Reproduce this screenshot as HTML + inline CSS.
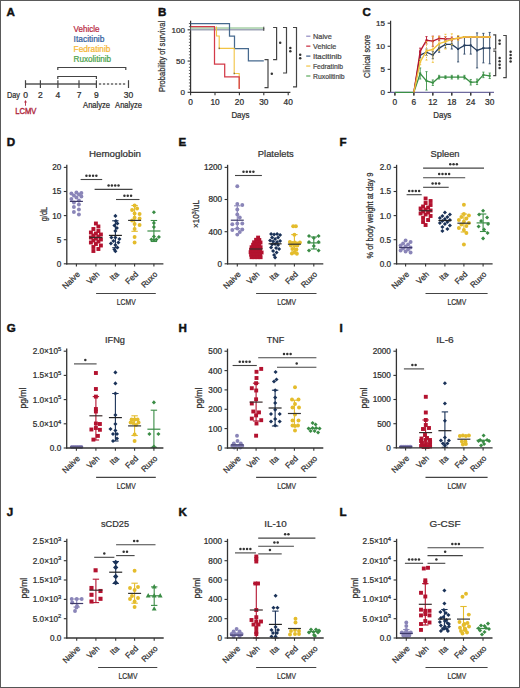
<!DOCTYPE html>
<html><head><meta charset="utf-8"><style>
html,body{margin:0;padding:0;background:#fff;overflow:hidden;}
svg{display:block;font-family:"Liberation Sans", sans-serif;}
</style></head><body>
<svg width="520" height="688" viewBox="0 0 520 688">
<rect x="0" y="0" width="520" height="688" fill="#fff"/>
<text x="6.60" y="16.20" font-size="11.6" text-anchor="start" fill="#111" font-weight="bold" stroke="#111" stroke-width="0.45">A</text>
<text x="73.60" y="31.70" font-size="8.3" text-anchor="start" fill="#b8283f" font-weight="normal" textLength="25.8" lengthAdjust="spacingAndGlyphs"  stroke="#b8283f" stroke-width="0.24">Vehicle</text>
<text x="73.60" y="41.70" font-size="8.3" text-anchor="start" fill="#34609e" font-weight="normal" textLength="30.8" lengthAdjust="spacingAndGlyphs"  stroke="#34609e" stroke-width="0.24">Itacitinib</text>
<text x="73.60" y="51.70" font-size="8.3" text-anchor="start" fill="#f6b634" font-weight="normal" textLength="36.8" lengthAdjust="spacingAndGlyphs"  stroke="#f6b634" stroke-width="0.24">Fedratinib</text>
<text x="73.60" y="61.70" font-size="8.3" text-anchor="start" fill="#4ba24b" font-weight="normal" textLength="37.5" lengthAdjust="spacingAndGlyphs"  stroke="#4ba24b" stroke-width="0.24">Ruxolitinib</text>
<polyline points="57.80,70.10 57.80,67.50 125.80,67.50 125.80,70.10" fill="none" stroke="#444" stroke-width="1.2" />
<polyline points="57.80,79.10 57.80,76.50 96.40,76.50 96.40,79.10" fill="none" stroke="#444" stroke-width="1.2" />
<line x1="25.50" y1="84.00" x2="96.40" y2="84.00" stroke="#555" stroke-width="1.5" />
<line x1="98.90" y1="84.00" x2="126.20" y2="84.00" stroke="#666" stroke-width="1.5" stroke-dasharray="2.3,1.7"/>
<line x1="25.50" y1="80.20" x2="25.50" y2="88.00" stroke="#444" stroke-width="1.2" />
<line x1="40.40" y1="80.20" x2="40.40" y2="88.00" stroke="#444" stroke-width="1.2" />
<line x1="57.90" y1="80.20" x2="57.90" y2="88.00" stroke="#444" stroke-width="1.2" />
<line x1="79.00" y1="80.20" x2="79.00" y2="88.00" stroke="#444" stroke-width="1.2" />
<line x1="96.40" y1="80.20" x2="96.40" y2="88.00" stroke="#444" stroke-width="1.2" />
<line x1="128.50" y1="80.20" x2="128.50" y2="88.00" stroke="#444" stroke-width="1.2" />
<text x="7.00" y="98.00" font-size="8.5" text-anchor="start" fill="#2e2e2e" font-weight="normal" textLength="13" lengthAdjust="spacingAndGlyphs"  stroke="#2e2e2e" stroke-width="0.24">Day</text>
<text x="25.50" y="98.00" font-size="8.5" text-anchor="middle" fill="#2e2e2e" font-weight="normal"  stroke="#2e2e2e" stroke-width="0.24">0</text>
<text x="40.40" y="98.00" font-size="8.5" text-anchor="middle" fill="#2e2e2e" font-weight="normal"  stroke="#2e2e2e" stroke-width="0.24">2</text>
<text x="57.90" y="98.00" font-size="8.5" text-anchor="middle" fill="#2e2e2e" font-weight="normal"  stroke="#2e2e2e" stroke-width="0.24">4</text>
<text x="79.00" y="98.00" font-size="8.5" text-anchor="middle" fill="#2e2e2e" font-weight="normal"  stroke="#2e2e2e" stroke-width="0.24">7</text>
<text x="96.40" y="98.00" font-size="8.5" text-anchor="middle" fill="#2e2e2e" font-weight="normal"  stroke="#2e2e2e" stroke-width="0.24">9</text>
<text x="128.50" y="98.00" font-size="8.5" text-anchor="middle" fill="#2e2e2e" font-weight="normal"  stroke="#2e2e2e" stroke-width="0.24">30</text>
<text x="96.60" y="108.00" font-size="8.5" text-anchor="middle" fill="#2e2e2e" font-weight="normal" textLength="27" lengthAdjust="spacingAndGlyphs"  stroke="#2e2e2e" stroke-width="0.24">Analyze</text>
<text x="128.60" y="108.00" font-size="8.5" text-anchor="middle" fill="#2e2e2e" font-weight="normal" textLength="27" lengthAdjust="spacingAndGlyphs"  stroke="#2e2e2e" stroke-width="0.24">Analyze</text>
<line x1="25.50" y1="101.50" x2="25.50" y2="105.80" stroke="#b02a40" stroke-width="0.9" />
<path d="M24.1,102.4 L25.5,100.1 L26.9,102.4 Z" fill="#b02a40"/>
<text x="25.80" y="114.20" font-size="9" text-anchor="middle" fill="#b02a40" font-weight="normal" textLength="21.3" lengthAdjust="spacingAndGlyphs" class="ns" stroke="#b02a40" stroke-width="0.4">LCMV</text>
<text x="158.00" y="16.20" font-size="11.6" text-anchor="start" fill="#111" font-weight="bold" stroke="#111" stroke-width="0.45">B</text>
<line x1="190.60" y1="20.80" x2="190.60" y2="92.90" stroke="#333" stroke-width="1.2" />
<line x1="190.00" y1="92.30" x2="290.40" y2="92.30" stroke="#333" stroke-width="1.2" />
<line x1="188.90" y1="89.17" x2="190.60" y2="89.17" stroke="#333" stroke-width="0.8" />
<line x1="188.90" y1="86.05" x2="190.60" y2="86.05" stroke="#333" stroke-width="0.8" />
<line x1="188.90" y1="82.92" x2="190.60" y2="82.92" stroke="#333" stroke-width="0.8" />
<line x1="188.90" y1="79.80" x2="190.60" y2="79.80" stroke="#333" stroke-width="0.8" />
<line x1="188.90" y1="76.67" x2="190.60" y2="76.67" stroke="#333" stroke-width="0.8" />
<line x1="188.90" y1="73.55" x2="190.60" y2="73.55" stroke="#333" stroke-width="0.8" />
<line x1="188.90" y1="70.42" x2="190.60" y2="70.42" stroke="#333" stroke-width="0.8" />
<line x1="188.90" y1="67.30" x2="190.60" y2="67.30" stroke="#333" stroke-width="0.8" />
<line x1="188.90" y1="64.17" x2="190.60" y2="64.17" stroke="#333" stroke-width="0.8" />
<line x1="188.90" y1="57.92" x2="190.60" y2="57.92" stroke="#333" stroke-width="0.8" />
<line x1="188.90" y1="54.80" x2="190.60" y2="54.80" stroke="#333" stroke-width="0.8" />
<line x1="188.90" y1="51.67" x2="190.60" y2="51.67" stroke="#333" stroke-width="0.8" />
<line x1="188.90" y1="48.55" x2="190.60" y2="48.55" stroke="#333" stroke-width="0.8" />
<line x1="188.90" y1="45.42" x2="190.60" y2="45.42" stroke="#333" stroke-width="0.8" />
<line x1="188.90" y1="42.30" x2="190.60" y2="42.30" stroke="#333" stroke-width="0.8" />
<line x1="188.90" y1="39.17" x2="190.60" y2="39.17" stroke="#333" stroke-width="0.8" />
<line x1="188.90" y1="36.05" x2="190.60" y2="36.05" stroke="#333" stroke-width="0.8" />
<line x1="188.90" y1="32.92" x2="190.60" y2="32.92" stroke="#333" stroke-width="0.8" />
<line x1="188.90" y1="26.67" x2="190.60" y2="26.67" stroke="#333" stroke-width="0.8" />
<line x1="188.90" y1="23.55" x2="190.60" y2="23.55" stroke="#333" stroke-width="0.8" />
<line x1="187.60" y1="92.30" x2="190.60" y2="92.30" stroke="#333" stroke-width="1.1" />
<text x="185.00" y="95.10" font-size="8.1" text-anchor="end" fill="#2e2e2e" font-weight="normal"  stroke="#2e2e2e" stroke-width="0.24">0</text>
<line x1="187.60" y1="61.05" x2="190.60" y2="61.05" stroke="#333" stroke-width="1.1" />
<text x="185.00" y="63.85" font-size="8.1" text-anchor="end" fill="#2e2e2e" font-weight="normal"  stroke="#2e2e2e" stroke-width="0.24">50</text>
<line x1="187.60" y1="29.80" x2="190.60" y2="29.80" stroke="#333" stroke-width="1.1" />
<text x="185.00" y="32.60" font-size="8.1" text-anchor="end" fill="#2e2e2e" font-weight="normal"  stroke="#2e2e2e" stroke-width="0.24">100</text>
<line x1="190.60" y1="92.30" x2="190.60" y2="95.30" stroke="#333" stroke-width="1.1" />
<text x="190.60" y="104.50" font-size="8.3" text-anchor="middle" fill="#2e2e2e" font-weight="normal"  stroke="#2e2e2e" stroke-width="0.24">0</text>
<line x1="215.00" y1="92.30" x2="215.00" y2="95.30" stroke="#333" stroke-width="1.1" />
<text x="215.00" y="104.50" font-size="8.3" text-anchor="middle" fill="#2e2e2e" font-weight="normal"  stroke="#2e2e2e" stroke-width="0.24">10</text>
<line x1="239.40" y1="92.30" x2="239.40" y2="95.30" stroke="#333" stroke-width="1.1" />
<text x="239.40" y="104.50" font-size="8.3" text-anchor="middle" fill="#2e2e2e" font-weight="normal"  stroke="#2e2e2e" stroke-width="0.24">20</text>
<line x1="263.80" y1="92.30" x2="263.80" y2="95.30" stroke="#333" stroke-width="1.1" />
<text x="263.80" y="104.50" font-size="8.3" text-anchor="middle" fill="#2e2e2e" font-weight="normal"  stroke="#2e2e2e" stroke-width="0.24">30</text>
<line x1="288.20" y1="92.30" x2="288.20" y2="95.30" stroke="#333" stroke-width="1.1" />
<text x="288.20" y="104.50" font-size="8.3" text-anchor="middle" fill="#2e2e2e" font-weight="normal"  stroke="#2e2e2e" stroke-width="0.24">40</text>
<text x="240.40" y="117.80" font-size="8.5" text-anchor="middle" fill="#2e2e2e" font-weight="normal" textLength="18" lengthAdjust="spacingAndGlyphs"  stroke="#2e2e2e" stroke-width="0.24">Days</text>
<text transform="translate(165.3,56.4) rotate(-90)" font-size="9" text-anchor="middle" fill="#2e2e2e" textLength="71" lengthAdjust="spacingAndGlyphs" stroke="#2e2e2e" stroke-width="0.24">Probability of survival</text>
<polyline points="190.60,29.60 263.80,29.60" fill="none" stroke="#a0a6b8" stroke-width="1.6" />
<polyline points="190.60,28.00 263.80,28.00" fill="none" stroke="#a8d2a8" stroke-width="1.6" />
<polyline points="190.60,23.50 229.50,23.50 229.50,36.10 234.50,36.10 234.50,48.60 248.40,48.60 248.40,60.80 263.80,60.80" fill="none" stroke="#46698e" stroke-width="1.25" />
<polyline points="216.50,26.50 216.50,36.00 219.20,36.00 219.20,48.40 234.20,48.40 234.20,73.50 239.20,73.50 239.20,88.50" fill="none" stroke="#f2c444" stroke-width="1.1" />
<polyline points="190.60,26.50 214.50,26.50 214.50,64.20 224.70,64.20 224.70,76.80 239.20,76.80 239.20,89.00" fill="none" stroke="#d33a48" stroke-width="1.25" />
<line x1="263.80" y1="26.70" x2="263.80" y2="29.30" stroke="#333" stroke-width="0.9" />
<line x1="263.80" y1="28.30" x2="263.80" y2="30.90" stroke="#333" stroke-width="0.9" />
<line x1="219.20" y1="47.60" x2="219.20" y2="49.20" stroke="#333" stroke-width="0.8" />
<line x1="234.20" y1="72.70" x2="234.20" y2="74.30" stroke="#333" stroke-width="0.8" />
<polyline points="273.10,27.50 276.60,27.50 276.60,59.60 273.10,59.60" fill="none" stroke="#444" stroke-width="1.2" />
<polyline points="264.50,59.60 268.00,59.60 268.00,87.70 264.50,87.70" fill="none" stroke="#444" stroke-width="1.2" />
<polyline points="283.00,27.50 286.50,27.50 286.50,73.00 283.00,73.00" fill="none" stroke="#444" stroke-width="1.2" />
<polyline points="293.00,27.50 296.50,27.50 296.50,86.80 293.00,86.80" fill="none" stroke="#444" stroke-width="1.2" />
<circle cx="280.20" cy="42.70" r="1.25" fill="#333"/>
<circle cx="271.80" cy="73.80" r="1.25" fill="#333"/>
<circle cx="290.30" cy="47.95" r="1.25" fill="#333"/>
<circle cx="290.30" cy="51.25" r="1.25" fill="#333"/>
<circle cx="300.20" cy="54.85" r="1.25" fill="#333"/>
<circle cx="300.20" cy="58.15" r="1.25" fill="#333"/>
<line x1="306.20" y1="36.20" x2="310.40" y2="36.20" stroke="#9089c0" stroke-width="1.2" />
<text x="313.00" y="38.80" font-size="7.9" text-anchor="start" fill="#4a4a4a" font-weight="normal" textLength="18.8" lengthAdjust="spacingAndGlyphs"  stroke="#4a4a4a" stroke-width="0.24">Naive</text>
<line x1="306.20" y1="46.15" x2="310.40" y2="46.15" stroke="#c8283c" stroke-width="1.2" />
<text x="313.00" y="48.75" font-size="7.9" text-anchor="start" fill="#4a4a4a" font-weight="normal" textLength="23.3" lengthAdjust="spacingAndGlyphs"  stroke="#4a4a4a" stroke-width="0.24">Vehicle</text>
<line x1="306.20" y1="56.10" x2="310.40" y2="56.10" stroke="#3a5a88" stroke-width="1.2" />
<text x="313.00" y="58.70" font-size="7.9" text-anchor="start" fill="#4a4a4a" font-weight="normal" textLength="28.5" lengthAdjust="spacingAndGlyphs"  stroke="#4a4a4a" stroke-width="0.24">Itacitinib</text>
<line x1="306.20" y1="66.05" x2="310.40" y2="66.05" stroke="#f2c444" stroke-width="1.2" />
<text x="313.00" y="68.65" font-size="7.9" text-anchor="start" fill="#4a4a4a" font-weight="normal" textLength="30" lengthAdjust="spacingAndGlyphs"  stroke="#4a4a4a" stroke-width="0.24">Fedratinib</text>
<line x1="306.20" y1="76.00" x2="310.40" y2="76.00" stroke="#5aa85a" stroke-width="1.2" />
<text x="313.00" y="78.60" font-size="7.9" text-anchor="start" fill="#4a4a4a" font-weight="normal" textLength="31.5" lengthAdjust="spacingAndGlyphs"  stroke="#4a4a4a" stroke-width="0.24">Ruxolitinib</text>
<text x="362.50" y="16.20" font-size="11.6" text-anchor="start" fill="#111" font-weight="bold" stroke="#111" stroke-width="0.45">C</text>
<line x1="390.60" y1="20.80" x2="390.60" y2="93.00" stroke="#333" stroke-width="1.2" />
<line x1="387.60" y1="92.40" x2="390.60" y2="92.40" stroke="#333" stroke-width="1.1" />
<text x="385.00" y="95.20" font-size="8.1" text-anchor="end" fill="#2e2e2e" font-weight="normal"  stroke="#2e2e2e" stroke-width="0.24">0</text>
<line x1="387.60" y1="69.34" x2="390.60" y2="69.34" stroke="#333" stroke-width="1.1" />
<text x="385.00" y="72.14" font-size="8.1" text-anchor="end" fill="#2e2e2e" font-weight="normal"  stroke="#2e2e2e" stroke-width="0.24">5</text>
<line x1="387.60" y1="46.27" x2="390.60" y2="46.27" stroke="#333" stroke-width="1.1" />
<text x="385.00" y="49.07" font-size="8.1" text-anchor="end" fill="#2e2e2e" font-weight="normal"  stroke="#2e2e2e" stroke-width="0.24">10</text>
<line x1="387.60" y1="23.20" x2="390.60" y2="23.20" stroke="#333" stroke-width="1.1" />
<text x="385.00" y="26.00" font-size="8.1" text-anchor="end" fill="#2e2e2e" font-weight="normal"  stroke="#2e2e2e" stroke-width="0.24">15</text>
<line x1="394.90" y1="92.40" x2="394.90" y2="95.40" stroke="#333" stroke-width="1.1" />
<text x="394.90" y="104.60" font-size="8.3" text-anchor="middle" fill="#2e2e2e" font-weight="normal"  stroke="#2e2e2e" stroke-width="0.24">0</text>
<line x1="413.86" y1="92.40" x2="413.86" y2="95.40" stroke="#333" stroke-width="1.1" />
<text x="413.86" y="104.60" font-size="8.3" text-anchor="middle" fill="#2e2e2e" font-weight="normal"  stroke="#2e2e2e" stroke-width="0.24">6</text>
<line x1="432.82" y1="92.40" x2="432.82" y2="95.40" stroke="#333" stroke-width="1.1" />
<text x="432.82" y="104.60" font-size="8.3" text-anchor="middle" fill="#2e2e2e" font-weight="normal"  stroke="#2e2e2e" stroke-width="0.24">12</text>
<line x1="451.78" y1="92.40" x2="451.78" y2="95.40" stroke="#333" stroke-width="1.1" />
<text x="451.78" y="104.60" font-size="8.3" text-anchor="middle" fill="#2e2e2e" font-weight="normal"  stroke="#2e2e2e" stroke-width="0.24">18</text>
<line x1="470.74" y1="92.40" x2="470.74" y2="95.40" stroke="#333" stroke-width="1.1" />
<text x="470.74" y="104.60" font-size="8.3" text-anchor="middle" fill="#2e2e2e" font-weight="normal"  stroke="#2e2e2e" stroke-width="0.24">24</text>
<line x1="489.70" y1="92.40" x2="489.70" y2="95.40" stroke="#333" stroke-width="1.1" />
<text x="489.70" y="104.60" font-size="8.3" text-anchor="middle" fill="#2e2e2e" font-weight="normal"  stroke="#2e2e2e" stroke-width="0.24">30</text>
<text x="442.30" y="117.90" font-size="8.5" text-anchor="middle" fill="#2e2e2e" font-weight="normal" textLength="18" lengthAdjust="spacingAndGlyphs"  stroke="#2e2e2e" stroke-width="0.24">Days</text>
<text transform="translate(369.6,56.4) rotate(-90)" font-size="9" text-anchor="middle" fill="#2e2e2e" textLength="43" lengthAdjust="spacingAndGlyphs" stroke="#2e2e2e" stroke-width="0.24">Clinical score</text>
<line x1="390.00" y1="92.40" x2="494.00" y2="92.40" stroke="#6e6a9e" stroke-width="1.2" />
<line x1="394.90" y1="92.40" x2="394.90" y2="95.40" stroke="#333" stroke-width="1.1" />
<line x1="413.86" y1="92.40" x2="413.86" y2="95.40" stroke="#333" stroke-width="1.1" />
<line x1="432.82" y1="92.40" x2="432.82" y2="95.40" stroke="#333" stroke-width="1.1" />
<line x1="451.78" y1="92.40" x2="451.78" y2="95.40" stroke="#333" stroke-width="1.1" />
<line x1="470.74" y1="92.40" x2="470.74" y2="95.40" stroke="#333" stroke-width="1.1" />
<line x1="489.70" y1="92.40" x2="489.70" y2="95.40" stroke="#333" stroke-width="1.1" />
<polyline points="394.90,92.40 413.86,92.40" fill="none" stroke="#3a9045" stroke-width="1.2" />
<line x1="420.18" y1="79.02" x2="420.18" y2="67.95" stroke="#3a9045" stroke-width="0.9" />
<line x1="419.08" y1="79.02" x2="421.28" y2="79.02" stroke="#3a9045" stroke-width="0.8" />
<line x1="419.08" y1="67.95" x2="421.28" y2="67.95" stroke="#3a9045" stroke-width="0.8" />
<line x1="426.50" y1="90.09" x2="426.50" y2="71.64" stroke="#3a9045" stroke-width="0.9" />
<line x1="425.40" y1="90.09" x2="427.60" y2="90.09" stroke="#3a9045" stroke-width="0.8" />
<line x1="425.40" y1="71.64" x2="427.60" y2="71.64" stroke="#3a9045" stroke-width="0.8" />
<line x1="432.82" y1="85.48" x2="432.82" y2="79.94" stroke="#3a9045" stroke-width="0.9" />
<line x1="431.72" y1="85.48" x2="433.92" y2="85.48" stroke="#3a9045" stroke-width="0.8" />
<line x1="431.72" y1="79.94" x2="433.92" y2="79.94" stroke="#3a9045" stroke-width="0.8" />
<line x1="439.14" y1="79.02" x2="439.14" y2="75.33" stroke="#3a9045" stroke-width="0.9" />
<line x1="438.04" y1="79.02" x2="440.24" y2="79.02" stroke="#3a9045" stroke-width="0.8" />
<line x1="438.04" y1="75.33" x2="440.24" y2="75.33" stroke="#3a9045" stroke-width="0.8" />
<line x1="445.46" y1="78.56" x2="445.46" y2="75.79" stroke="#3a9045" stroke-width="0.9" />
<line x1="444.36" y1="78.56" x2="446.56" y2="78.56" stroke="#3a9045" stroke-width="0.8" />
<line x1="444.36" y1="75.79" x2="446.56" y2="75.79" stroke="#3a9045" stroke-width="0.8" />
<line x1="451.78" y1="79.02" x2="451.78" y2="75.33" stroke="#3a9045" stroke-width="0.9" />
<line x1="450.68" y1="79.02" x2="452.88" y2="79.02" stroke="#3a9045" stroke-width="0.8" />
<line x1="450.68" y1="75.33" x2="452.88" y2="75.33" stroke="#3a9045" stroke-width="0.8" />
<line x1="458.10" y1="79.02" x2="458.10" y2="75.33" stroke="#3a9045" stroke-width="0.9" />
<line x1="457.00" y1="79.02" x2="459.20" y2="79.02" stroke="#3a9045" stroke-width="0.8" />
<line x1="457.00" y1="75.33" x2="459.20" y2="75.33" stroke="#3a9045" stroke-width="0.8" />
<line x1="464.42" y1="79.02" x2="464.42" y2="75.33" stroke="#3a9045" stroke-width="0.9" />
<line x1="463.32" y1="79.02" x2="465.52" y2="79.02" stroke="#3a9045" stroke-width="0.8" />
<line x1="463.32" y1="75.33" x2="465.52" y2="75.33" stroke="#3a9045" stroke-width="0.8" />
<line x1="470.74" y1="85.02" x2="470.74" y2="79.48" stroke="#3a9045" stroke-width="0.9" />
<line x1="469.64" y1="85.02" x2="471.84" y2="85.02" stroke="#3a9045" stroke-width="0.8" />
<line x1="469.64" y1="79.48" x2="471.84" y2="79.48" stroke="#3a9045" stroke-width="0.8" />
<line x1="477.06" y1="84.56" x2="477.06" y2="79.02" stroke="#3a9045" stroke-width="0.9" />
<line x1="475.96" y1="84.56" x2="478.16" y2="84.56" stroke="#3a9045" stroke-width="0.8" />
<line x1="475.96" y1="79.02" x2="478.16" y2="79.02" stroke="#3a9045" stroke-width="0.8" />
<line x1="483.38" y1="77.64" x2="483.38" y2="72.10" stroke="#3a9045" stroke-width="0.9" />
<line x1="482.28" y1="77.64" x2="484.48" y2="77.64" stroke="#3a9045" stroke-width="0.8" />
<line x1="482.28" y1="72.10" x2="484.48" y2="72.10" stroke="#3a9045" stroke-width="0.8" />
<line x1="489.70" y1="78.56" x2="489.70" y2="73.03" stroke="#3a9045" stroke-width="0.9" />
<line x1="488.60" y1="78.56" x2="490.80" y2="78.56" stroke="#3a9045" stroke-width="0.8" />
<line x1="488.60" y1="73.03" x2="490.80" y2="73.03" stroke="#3a9045" stroke-width="0.8" />
<polyline points="413.86,92.40 420.18,73.49 426.50,80.87 432.82,82.71 439.14,77.18 445.46,77.18 451.78,77.18 458.10,77.18 464.42,77.18 470.74,82.25 477.06,81.79 483.38,74.87 489.70,75.79" fill="none" stroke="#3a9045" stroke-width="1.3" />
<rect x="419.18" y="72.49" width="2" height="2" fill="#3a9045"/>
<rect x="425.50" y="79.87" width="2" height="2" fill="#3a9045"/>
<rect x="431.82" y="81.71" width="2" height="2" fill="#3a9045"/>
<rect x="438.14" y="76.18" width="2" height="2" fill="#3a9045"/>
<rect x="444.46" y="76.18" width="2" height="2" fill="#3a9045"/>
<rect x="450.78" y="76.18" width="2" height="2" fill="#3a9045"/>
<rect x="457.10" y="76.18" width="2" height="2" fill="#3a9045"/>
<rect x="463.42" y="76.18" width="2" height="2" fill="#3a9045"/>
<rect x="469.74" y="81.25" width="2" height="2" fill="#3a9045"/>
<rect x="476.06" y="80.79" width="2" height="2" fill="#3a9045"/>
<rect x="482.38" y="73.87" width="2" height="2" fill="#3a9045"/>
<rect x="488.70" y="74.79" width="2" height="2" fill="#3a9045"/>
<line x1="420.18" y1="57.80" x2="420.18" y2="52.27" stroke="#263f60" stroke-width="0.9" />
<line x1="419.08" y1="57.80" x2="421.28" y2="57.80" stroke="#263f60" stroke-width="0.8" />
<line x1="419.08" y1="52.27" x2="421.28" y2="52.27" stroke="#263f60" stroke-width="0.8" />
<line x1="426.50" y1="55.50" x2="426.50" y2="49.04" stroke="#263f60" stroke-width="0.9" />
<line x1="425.40" y1="55.50" x2="427.60" y2="55.50" stroke="#263f60" stroke-width="0.8" />
<line x1="425.40" y1="49.04" x2="427.60" y2="49.04" stroke="#263f60" stroke-width="0.8" />
<line x1="432.82" y1="58.73" x2="432.82" y2="51.34" stroke="#263f60" stroke-width="0.9" />
<line x1="431.72" y1="58.73" x2="433.92" y2="58.73" stroke="#263f60" stroke-width="0.8" />
<line x1="431.72" y1="51.34" x2="433.92" y2="51.34" stroke="#263f60" stroke-width="0.8" />
<line x1="439.14" y1="52.27" x2="439.14" y2="43.96" stroke="#263f60" stroke-width="0.9" />
<line x1="438.04" y1="52.27" x2="440.24" y2="52.27" stroke="#263f60" stroke-width="0.8" />
<line x1="438.04" y1="43.96" x2="440.24" y2="43.96" stroke="#263f60" stroke-width="0.8" />
<line x1="445.46" y1="48.12" x2="445.46" y2="40.73" stroke="#263f60" stroke-width="0.9" />
<line x1="444.36" y1="48.12" x2="446.56" y2="48.12" stroke="#263f60" stroke-width="0.8" />
<line x1="444.36" y1="40.73" x2="446.56" y2="40.73" stroke="#263f60" stroke-width="0.8" />
<line x1="451.78" y1="49.04" x2="451.78" y2="39.81" stroke="#263f60" stroke-width="0.9" />
<line x1="450.68" y1="49.04" x2="452.88" y2="49.04" stroke="#263f60" stroke-width="0.8" />
<line x1="450.68" y1="39.81" x2="452.88" y2="39.81" stroke="#263f60" stroke-width="0.8" />
<line x1="458.10" y1="61.95" x2="458.10" y2="36.12" stroke="#263f60" stroke-width="0.9" />
<line x1="457.00" y1="61.95" x2="459.20" y2="61.95" stroke="#263f60" stroke-width="0.8" />
<line x1="457.00" y1="36.12" x2="459.20" y2="36.12" stroke="#263f60" stroke-width="0.8" />
<line x1="464.42" y1="54.11" x2="464.42" y2="36.58" stroke="#263f60" stroke-width="0.9" />
<line x1="463.32" y1="54.11" x2="465.52" y2="54.11" stroke="#263f60" stroke-width="0.8" />
<line x1="463.32" y1="36.58" x2="465.52" y2="36.58" stroke="#263f60" stroke-width="0.8" />
<line x1="470.74" y1="54.11" x2="470.74" y2="36.58" stroke="#263f60" stroke-width="0.9" />
<line x1="469.64" y1="54.11" x2="471.84" y2="54.11" stroke="#263f60" stroke-width="0.8" />
<line x1="469.64" y1="36.58" x2="471.84" y2="36.58" stroke="#263f60" stroke-width="0.8" />
<line x1="477.06" y1="67.95" x2="477.06" y2="32.89" stroke="#263f60" stroke-width="0.9" />
<line x1="475.96" y1="67.95" x2="478.16" y2="67.95" stroke="#263f60" stroke-width="0.8" />
<line x1="475.96" y1="32.89" x2="478.16" y2="32.89" stroke="#263f60" stroke-width="0.8" />
<line x1="483.38" y1="62.88" x2="483.38" y2="33.35" stroke="#263f60" stroke-width="0.9" />
<line x1="482.28" y1="62.88" x2="484.48" y2="62.88" stroke="#263f60" stroke-width="0.8" />
<line x1="482.28" y1="33.35" x2="484.48" y2="33.35" stroke="#263f60" stroke-width="0.8" />
<line x1="489.70" y1="63.80" x2="489.70" y2="32.43" stroke="#263f60" stroke-width="0.9" />
<line x1="488.60" y1="63.80" x2="490.80" y2="63.80" stroke="#263f60" stroke-width="0.8" />
<line x1="488.60" y1="32.43" x2="490.80" y2="32.43" stroke="#263f60" stroke-width="0.8" />
<polyline points="413.86,92.40 420.18,55.03 426.50,52.27 432.82,55.03 439.14,48.12 445.46,44.42 451.78,44.42 458.10,49.04 464.42,45.35 470.74,45.35 477.06,50.42 483.38,48.12 489.70,48.12" fill="none" stroke="#263f60" stroke-width="1.3" />
<rect x="419.18" y="54.03" width="2" height="2" fill="#263f60"/>
<rect x="425.50" y="51.27" width="2" height="2" fill="#263f60"/>
<rect x="431.82" y="54.03" width="2" height="2" fill="#263f60"/>
<rect x="438.14" y="47.12" width="2" height="2" fill="#263f60"/>
<rect x="444.46" y="43.42" width="2" height="2" fill="#263f60"/>
<rect x="450.78" y="43.42" width="2" height="2" fill="#263f60"/>
<rect x="457.10" y="48.04" width="2" height="2" fill="#263f60"/>
<rect x="463.42" y="44.35" width="2" height="2" fill="#263f60"/>
<rect x="469.74" y="44.35" width="2" height="2" fill="#263f60"/>
<rect x="476.06" y="49.42" width="2" height="2" fill="#263f60"/>
<rect x="482.38" y="47.12" width="2" height="2" fill="#263f60"/>
<rect x="488.70" y="47.12" width="2" height="2" fill="#263f60"/>
<line x1="420.18" y1="54.57" x2="420.18" y2="48.12" stroke="#b8142f" stroke-width="0.9" />
<line x1="419.08" y1="54.57" x2="421.28" y2="54.57" stroke="#b8142f" stroke-width="0.8" />
<line x1="419.08" y1="48.12" x2="421.28" y2="48.12" stroke="#b8142f" stroke-width="0.8" />
<line x1="426.50" y1="43.96" x2="426.50" y2="36.58" stroke="#b8142f" stroke-width="0.9" />
<line x1="425.40" y1="43.96" x2="427.60" y2="43.96" stroke="#b8142f" stroke-width="0.8" />
<line x1="425.40" y1="36.58" x2="427.60" y2="36.58" stroke="#b8142f" stroke-width="0.8" />
<line x1="432.82" y1="46.27" x2="432.82" y2="36.12" stroke="#b8142f" stroke-width="0.9" />
<line x1="431.72" y1="46.27" x2="433.92" y2="46.27" stroke="#b8142f" stroke-width="0.8" />
<line x1="431.72" y1="36.12" x2="433.92" y2="36.12" stroke="#b8142f" stroke-width="0.8" />
<line x1="439.14" y1="40.73" x2="439.14" y2="36.12" stroke="#b8142f" stroke-width="0.9" />
<line x1="438.04" y1="40.73" x2="440.24" y2="40.73" stroke="#b8142f" stroke-width="0.8" />
<line x1="438.04" y1="36.12" x2="440.24" y2="36.12" stroke="#b8142f" stroke-width="0.8" />
<line x1="445.46" y1="41.20" x2="445.46" y2="36.58" stroke="#b8142f" stroke-width="0.9" />
<line x1="444.36" y1="41.20" x2="446.56" y2="41.20" stroke="#b8142f" stroke-width="0.8" />
<line x1="444.36" y1="36.58" x2="446.56" y2="36.58" stroke="#b8142f" stroke-width="0.8" />
<line x1="451.78" y1="40.73" x2="451.78" y2="37.04" stroke="#b8142f" stroke-width="0.9" />
<line x1="450.68" y1="40.73" x2="452.88" y2="40.73" stroke="#b8142f" stroke-width="0.8" />
<line x1="450.68" y1="37.04" x2="452.88" y2="37.04" stroke="#b8142f" stroke-width="0.8" />
<line x1="458.10" y1="39.81" x2="458.10" y2="37.04" stroke="#b8142f" stroke-width="0.9" />
<line x1="457.00" y1="39.81" x2="459.20" y2="39.81" stroke="#b8142f" stroke-width="0.8" />
<line x1="457.00" y1="37.04" x2="459.20" y2="37.04" stroke="#b8142f" stroke-width="0.8" />
<polyline points="413.86,92.40 420.18,51.34 426.50,40.27 432.82,41.20 439.14,38.43 445.46,38.89 451.78,38.89 458.10,38.43 464.42,37.04 470.74,37.04 477.06,37.04 483.38,37.04 489.70,37.04" fill="none" stroke="#b8142f" stroke-width="1.3" />
<rect x="419.18" y="50.34" width="2" height="2" fill="#b8142f"/>
<rect x="425.50" y="39.27" width="2" height="2" fill="#b8142f"/>
<rect x="431.82" y="40.20" width="2" height="2" fill="#b8142f"/>
<rect x="438.14" y="37.43" width="2" height="2" fill="#b8142f"/>
<rect x="444.46" y="37.89" width="2" height="2" fill="#b8142f"/>
<rect x="450.78" y="37.89" width="2" height="2" fill="#b8142f"/>
<rect x="457.10" y="37.43" width="2" height="2" fill="#b8142f"/>
<rect x="463.42" y="36.04" width="2" height="2" fill="#b8142f"/>
<rect x="469.74" y="36.04" width="2" height="2" fill="#b8142f"/>
<rect x="476.06" y="36.04" width="2" height="2" fill="#b8142f"/>
<rect x="482.38" y="36.04" width="2" height="2" fill="#b8142f"/>
<rect x="488.70" y="36.04" width="2" height="2" fill="#b8142f"/>
<line x1="420.18" y1="64.72" x2="420.18" y2="59.19" stroke="#f0c23a" stroke-width="0.9" stroke-dasharray="1.2,0.8"/>
<line x1="419.08" y1="64.72" x2="421.28" y2="64.72" stroke="#f0c23a" stroke-width="0.8" />
<line x1="419.08" y1="59.19" x2="421.28" y2="59.19" stroke="#f0c23a" stroke-width="0.8" />
<line x1="426.50" y1="60.11" x2="426.50" y2="41.66" stroke="#f0c23a" stroke-width="0.9" stroke-dasharray="1.2,0.8"/>
<line x1="425.40" y1="60.11" x2="427.60" y2="60.11" stroke="#f0c23a" stroke-width="0.8" />
<line x1="425.40" y1="41.66" x2="427.60" y2="41.66" stroke="#f0c23a" stroke-width="0.8" />
<line x1="432.82" y1="62.42" x2="432.82" y2="36.58" stroke="#f0c23a" stroke-width="0.9" stroke-dasharray="1.2,0.8"/>
<line x1="431.72" y1="62.42" x2="433.92" y2="62.42" stroke="#f0c23a" stroke-width="0.8" />
<line x1="431.72" y1="36.58" x2="433.92" y2="36.58" stroke="#f0c23a" stroke-width="0.8" />
<line x1="439.14" y1="50.42" x2="439.14" y2="36.58" stroke="#f0c23a" stroke-width="0.9" stroke-dasharray="1.2,0.8"/>
<line x1="438.04" y1="50.42" x2="440.24" y2="50.42" stroke="#f0c23a" stroke-width="0.8" />
<line x1="438.04" y1="36.58" x2="440.24" y2="36.58" stroke="#f0c23a" stroke-width="0.8" />
<line x1="445.46" y1="49.04" x2="445.46" y2="34.28" stroke="#f0c23a" stroke-width="0.9" stroke-dasharray="1.2,0.8"/>
<line x1="444.36" y1="49.04" x2="446.56" y2="49.04" stroke="#f0c23a" stroke-width="0.8" />
<line x1="444.36" y1="34.28" x2="446.56" y2="34.28" stroke="#f0c23a" stroke-width="0.8" />
<line x1="451.78" y1="44.89" x2="451.78" y2="33.81" stroke="#f0c23a" stroke-width="0.9" stroke-dasharray="1.2,0.8"/>
<line x1="450.68" y1="44.89" x2="452.88" y2="44.89" stroke="#f0c23a" stroke-width="0.8" />
<line x1="450.68" y1="33.81" x2="452.88" y2="33.81" stroke="#f0c23a" stroke-width="0.8" />
<line x1="458.10" y1="40.27" x2="458.10" y2="35.66" stroke="#f0c23a" stroke-width="0.9" stroke-dasharray="1.2,0.8"/>
<line x1="457.00" y1="40.27" x2="459.20" y2="40.27" stroke="#f0c23a" stroke-width="0.8" />
<line x1="457.00" y1="35.66" x2="459.20" y2="35.66" stroke="#f0c23a" stroke-width="0.8" />
<polyline points="413.86,92.40 420.18,61.95 426.50,50.88 432.82,49.50 439.14,43.50 445.46,41.66 451.78,39.35 458.10,37.97 464.42,37.04 470.74,37.04 477.06,37.04 483.38,37.04 489.70,37.04" fill="none" stroke="#f0c23a" stroke-width="1.4" />
<rect x="419.18" y="60.95" width="2" height="2" fill="#f0c23a"/>
<rect x="425.50" y="49.88" width="2" height="2" fill="#f0c23a"/>
<rect x="431.82" y="48.50" width="2" height="2" fill="#f0c23a"/>
<rect x="438.14" y="42.50" width="2" height="2" fill="#f0c23a"/>
<rect x="444.46" y="40.66" width="2" height="2" fill="#f0c23a"/>
<rect x="450.78" y="38.35" width="2" height="2" fill="#f0c23a"/>
<rect x="457.10" y="36.97" width="2" height="2" fill="#f0c23a"/>
<rect x="463.42" y="36.04" width="2" height="2" fill="#f0c23a"/>
<rect x="469.74" y="36.04" width="2" height="2" fill="#f0c23a"/>
<rect x="476.06" y="36.04" width="2" height="2" fill="#f0c23a"/>
<rect x="482.38" y="36.04" width="2" height="2" fill="#f0c23a"/>
<rect x="488.70" y="36.04" width="2" height="2" fill="#f0c23a"/>
<polyline points="493.20,34.90 495.70,34.90 495.70,49.00 493.20,49.00" fill="none" stroke="#444" stroke-width="1.2" />
<polyline points="493.20,51.20 495.70,51.20 495.70,75.60 493.20,75.60" fill="none" stroke="#444" stroke-width="1.2" />
<polyline points="503.20,35.50 506.20,35.50 506.20,77.60 503.20,77.60" fill="none" stroke="#444" stroke-width="1.2" />
<circle cx="499.60" cy="40.45" r="1.25" fill="#333"/>
<circle cx="499.60" cy="43.75" r="1.25" fill="#333"/>
<circle cx="499.60" cy="58.05" r="1.25" fill="#333"/>
<circle cx="499.60" cy="61.35" r="1.25" fill="#333"/>
<circle cx="499.60" cy="64.65" r="1.25" fill="#333"/>
<circle cx="499.60" cy="67.95" r="1.25" fill="#333"/>
<circle cx="510.60" cy="51.65" r="1.25" fill="#333"/>
<circle cx="510.60" cy="54.95" r="1.25" fill="#333"/>
<circle cx="510.60" cy="58.25" r="1.25" fill="#333"/>
<circle cx="510.60" cy="61.55" r="1.25" fill="#333"/>
<text x="6.80" y="145.80" font-size="11.6" text-anchor="start" fill="#111" font-weight="bold" stroke="#111" stroke-width="0.45">D</text>
<text x="115.00" y="156.60" font-size="9.3" text-anchor="middle" fill="#333" font-weight="normal" textLength="52" lengthAdjust="spacingAndGlyphs"  stroke="#333" stroke-width="0.24">Hemoglobin</text>
<circle cx="76.40" cy="192.50" r="1.95" fill="#8a85b8"/>
<circle cx="81.40" cy="193.00" r="1.95" fill="#8a85b8"/>
<circle cx="71.40" cy="193.50" r="1.95" fill="#8a85b8"/>
<circle cx="78.90" cy="194.50" r="1.95" fill="#8a85b8"/>
<circle cx="73.90" cy="195.50" r="1.95" fill="#8a85b8"/>
<circle cx="81.40" cy="196.50" r="1.95" fill="#8a85b8"/>
<circle cx="76.40" cy="197.50" r="1.95" fill="#8a85b8"/>
<circle cx="71.40" cy="199.00" r="1.95" fill="#8a85b8"/>
<circle cx="78.90" cy="200.50" r="1.95" fill="#8a85b8"/>
<circle cx="73.90" cy="202.50" r="1.95" fill="#8a85b8"/>
<circle cx="78.90" cy="204.50" r="1.95" fill="#8a85b8"/>
<circle cx="73.90" cy="207.00" r="1.95" fill="#8a85b8"/>
<circle cx="78.90" cy="209.50" r="1.95" fill="#8a85b8"/>
<circle cx="73.90" cy="212.00" r="1.95" fill="#8a85b8"/>
<circle cx="78.90" cy="214.50" r="1.95" fill="#8a85b8"/>
<line x1="69.90" y1="201.40" x2="82.90" y2="201.40" stroke="#3e3a6a" stroke-width="1.2" />
<rect x="93.95" y="221.55" width="3.90" height="3.90" fill="#b3122f"/>
<rect x="96.45" y="224.55" width="3.90" height="3.90" fill="#b3122f"/>
<rect x="91.45" y="227.05" width="3.90" height="3.90" fill="#b3122f"/>
<rect x="96.45" y="229.05" width="3.90" height="3.90" fill="#b3122f"/>
<rect x="88.95" y="230.55" width="3.90" height="3.90" fill="#b3122f"/>
<rect x="93.95" y="231.55" width="3.90" height="3.90" fill="#b3122f"/>
<rect x="98.95" y="232.55" width="3.90" height="3.90" fill="#b3122f"/>
<rect x="91.45" y="233.55" width="3.90" height="3.90" fill="#b3122f"/>
<rect x="96.45" y="234.55" width="3.90" height="3.90" fill="#b3122f"/>
<rect x="88.95" y="235.55" width="3.90" height="3.90" fill="#b3122f"/>
<rect x="93.95" y="236.55" width="3.90" height="3.90" fill="#b3122f"/>
<rect x="98.95" y="237.55" width="3.90" height="3.90" fill="#b3122f"/>
<rect x="91.45" y="238.55" width="3.90" height="3.90" fill="#b3122f"/>
<rect x="96.45" y="239.55" width="3.90" height="3.90" fill="#b3122f"/>
<rect x="88.95" y="240.55" width="3.90" height="3.90" fill="#b3122f"/>
<rect x="93.95" y="242.05" width="3.90" height="3.90" fill="#b3122f"/>
<rect x="98.95" y="243.55" width="3.90" height="3.90" fill="#b3122f"/>
<rect x="91.45" y="245.05" width="3.90" height="3.90" fill="#b3122f"/>
<rect x="96.45" y="247.05" width="3.90" height="3.90" fill="#b3122f"/>
<rect x="91.45" y="249.05" width="3.90" height="3.90" fill="#b3122f"/>
<line x1="89.40" y1="237.50" x2="102.40" y2="237.50" stroke="#3a2a2a" stroke-width="1.2" />
<line x1="115.40" y1="220.80" x2="115.40" y2="247.70" stroke="#1a3258" stroke-width="1.1" />
<line x1="112.20" y1="220.80" x2="118.60" y2="220.80" stroke="#1a3258" stroke-width="1.1" />
<line x1="112.20" y1="247.70" x2="118.60" y2="247.70" stroke="#1a3258" stroke-width="1.1" />
<path d="M115.40,213.85 L117.45,215.90 L115.40,217.95 L113.35,215.90 Z" fill="#1a3258"/>
<path d="M115.90,218.95 L117.95,221.00 L115.90,223.05 L113.85,221.00 Z" fill="#1a3258"/>
<path d="M117.40,221.45 L119.45,223.50 L117.40,225.55 L115.35,223.50 Z" fill="#1a3258"/>
<path d="M114.40,223.45 L116.45,225.50 L114.40,227.55 L112.35,225.50 Z" fill="#1a3258"/>
<path d="M116.90,225.95 L118.95,228.00 L116.90,230.05 L114.85,228.00 Z" fill="#1a3258"/>
<path d="M115.40,228.95 L117.45,231.00 L115.40,233.05 L113.35,231.00 Z" fill="#1a3258"/>
<path d="M111.40,235.45 L113.45,237.50 L111.40,239.55 L109.35,237.50 Z" fill="#1a3258"/>
<path d="M115.40,235.45 L117.45,237.50 L115.40,239.55 L113.35,237.50 Z" fill="#1a3258"/>
<path d="M119.40,236.95 L121.45,239.00 L119.40,241.05 L117.35,239.00 Z" fill="#1a3258"/>
<path d="M113.40,238.95 L115.45,241.00 L113.40,243.05 L111.35,241.00 Z" fill="#1a3258"/>
<path d="M118.40,240.45 L120.45,242.50 L118.40,244.55 L116.35,242.50 Z" fill="#1a3258"/>
<path d="M110.90,241.45 L112.95,243.50 L110.90,245.55 L108.85,243.50 Z" fill="#1a3258"/>
<path d="M115.40,242.95 L117.45,245.00 L115.40,247.05 L113.35,245.00 Z" fill="#1a3258"/>
<path d="M117.40,245.45 L119.45,247.50 L117.40,249.55 L115.35,247.50 Z" fill="#1a3258"/>
<path d="M114.40,247.45 L116.45,249.50 L114.40,251.55 L112.35,249.50 Z" fill="#1a3258"/>
<path d="M115.40,249.25 L117.45,251.30 L115.40,253.35 L113.35,251.30 Z" fill="#1a3258"/>
<line x1="108.90" y1="235.40" x2="121.90" y2="235.40" stroke="#222" stroke-width="1.2" />
<line x1="134.60" y1="205.50" x2="134.60" y2="231.30" stroke="#e4bc2c" stroke-width="1.1" />
<line x1="131.40" y1="205.50" x2="137.80" y2="205.50" stroke="#e4bc2c" stroke-width="1.1" />
<line x1="131.40" y1="231.30" x2="137.80" y2="231.30" stroke="#e4bc2c" stroke-width="1.1" />
<circle cx="134.60" cy="205.50" r="1.95" fill="#e4bc2c"/>
<circle cx="137.10" cy="208.50" r="1.95" fill="#e4bc2c"/>
<circle cx="132.10" cy="210.00" r="1.95" fill="#e4bc2c"/>
<circle cx="134.60" cy="213.50" r="1.95" fill="#e4bc2c"/>
<circle cx="139.60" cy="214.00" r="1.95" fill="#e4bc2c"/>
<circle cx="134.60" cy="217.80" r="1.95" fill="#e4bc2c"/>
<circle cx="139.60" cy="218.50" r="1.95" fill="#e4bc2c"/>
<circle cx="132.10" cy="220.50" r="1.95" fill="#e4bc2c"/>
<circle cx="134.60" cy="224.00" r="1.95" fill="#e4bc2c"/>
<circle cx="139.60" cy="225.00" r="1.95" fill="#e4bc2c"/>
<circle cx="134.60" cy="229.00" r="1.95" fill="#e4bc2c"/>
<circle cx="134.60" cy="237.00" r="1.95" fill="#e4bc2c"/>
<circle cx="134.60" cy="242.50" r="1.95" fill="#e4bc2c"/>
<line x1="128.10" y1="220.40" x2="141.10" y2="220.40" stroke="#333" stroke-width="1.2" />
<line x1="153.90" y1="220.50" x2="153.90" y2="241.50" stroke="#3a8c45" stroke-width="1.1" />
<line x1="150.70" y1="220.50" x2="157.10" y2="220.50" stroke="#3a8c45" stroke-width="1.1" />
<line x1="150.70" y1="241.50" x2="157.10" y2="241.50" stroke="#3a8c45" stroke-width="1.1" />
<path d="M153.90,210.25 L155.95,212.30 L153.90,214.35 L151.85,212.30 Z" fill="#3a8c45"/>
<path d="M153.90,220.95 L155.95,223.00 L153.90,225.05 L151.85,223.00 Z" fill="#3a8c45"/>
<path d="M153.90,224.95 L155.95,227.00 L153.90,229.05 L151.85,227.00 Z" fill="#3a8c45"/>
<path d="M153.90,234.45 L155.95,236.50 L153.90,238.55 L151.85,236.50 Z" fill="#3a8c45"/>
<path d="M158.90,234.95 L160.95,237.00 L158.90,239.05 L156.85,237.00 Z" fill="#3a8c45"/>
<path d="M151.40,237.45 L153.45,239.50 L151.40,241.55 L149.35,239.50 Z" fill="#3a8c45"/>
<path d="M156.40,237.45 L158.45,239.50 L156.40,241.55 L154.35,239.50 Z" fill="#3a8c45"/>
<path d="M153.90,237.95 L155.95,240.00 L153.90,242.05 L151.85,240.00 Z" fill="#3a8c45"/>
<line x1="147.40" y1="231.00" x2="160.40" y2="231.00" stroke="#3a8c45" stroke-width="1.2" />
<line x1="66.80" y1="164.80" x2="66.80" y2="264.40" stroke="#333" stroke-width="1.3" />
<line x1="66.20" y1="263.80" x2="163.40" y2="263.80" stroke="#333" stroke-width="1.3" />
<line x1="63.80" y1="167.40" x2="66.80" y2="167.40" stroke="#333" stroke-width="1.1" />
<text x="61.30" y="170.35" font-size="8.2" text-anchor="end" fill="#2e2e2e" stroke="#2e2e2e" stroke-width="0.24">20</text>
<line x1="63.80" y1="191.50" x2="66.80" y2="191.50" stroke="#333" stroke-width="1.1" />
<text x="61.30" y="194.45" font-size="8.2" text-anchor="end" fill="#2e2e2e" stroke="#2e2e2e" stroke-width="0.24">15</text>
<line x1="63.80" y1="215.60" x2="66.80" y2="215.60" stroke="#333" stroke-width="1.1" />
<text x="61.30" y="218.55" font-size="8.2" text-anchor="end" fill="#2e2e2e" stroke="#2e2e2e" stroke-width="0.24">10</text>
<line x1="63.80" y1="239.70" x2="66.80" y2="239.70" stroke="#333" stroke-width="1.1" />
<text x="61.30" y="242.65" font-size="8.2" text-anchor="end" fill="#2e2e2e" stroke="#2e2e2e" stroke-width="0.24">5</text>
<line x1="63.80" y1="263.80" x2="66.80" y2="263.80" stroke="#333" stroke-width="1.1" />
<text x="61.30" y="266.75" font-size="8.2" text-anchor="end" fill="#2e2e2e" stroke="#2e2e2e" stroke-width="0.24">0</text>
<line x1="76.40" y1="263.80" x2="76.40" y2="266.60" stroke="#333" stroke-width="1.1" />
<text transform="translate(80.40,274.80) rotate(-45)" font-size="8.2" text-anchor="end" fill="#2e2e2e" stroke="#2e2e2e" stroke-width="0.24">Naive</text>
<line x1="95.90" y1="263.80" x2="95.90" y2="266.60" stroke="#333" stroke-width="1.1" />
<text transform="translate(99.90,274.80) rotate(-45)" font-size="8.2" text-anchor="end" fill="#2e2e2e" stroke="#2e2e2e" stroke-width="0.24">Veh</text>
<line x1="115.40" y1="263.80" x2="115.40" y2="266.60" stroke="#333" stroke-width="1.1" />
<text transform="translate(119.40,274.80) rotate(-45)" font-size="8.2" text-anchor="end" fill="#2e2e2e" stroke="#2e2e2e" stroke-width="0.24">Ita</text>
<line x1="134.60" y1="263.80" x2="134.60" y2="266.60" stroke="#333" stroke-width="1.1" />
<text transform="translate(138.60,274.80) rotate(-45)" font-size="8.2" text-anchor="end" fill="#2e2e2e" stroke="#2e2e2e" stroke-width="0.24">Fed</text>
<line x1="153.90" y1="263.80" x2="153.90" y2="266.60" stroke="#333" stroke-width="1.1" />
<text transform="translate(157.90,274.80) rotate(-45)" font-size="8.2" text-anchor="end" fill="#2e2e2e" stroke="#2e2e2e" stroke-width="0.24">Ruxo</text>
<text transform="translate(47.40,214.10) rotate(-90)" font-size="8.4" text-anchor="middle" fill="#2e2e2e" textLength="14.4" lengthAdjust="spacingAndGlyphs" stroke="#2e2e2e" stroke-width="0.24">g/dL</text>
<line x1="96.10" y1="293.50" x2="155.80" y2="293.50" stroke="#444" stroke-width="1.2" />
<text x="126.25" y="304.80" font-size="9.6" text-anchor="middle" fill="#2e2e2e" font-weight="normal" textLength="18.8" lengthAdjust="spacingAndGlyphs"  stroke="#2e2e2e" stroke-width="0.24">LCMV</text>
<line x1="80.60" y1="179.50" x2="102.20" y2="179.50" stroke="#444" stroke-width="1.1" />
<circle cx="86.45" cy="175.70" r="1.25" fill="#333"/>
<circle cx="89.75" cy="175.70" r="1.25" fill="#333"/>
<circle cx="93.05" cy="175.70" r="1.25" fill="#333"/>
<circle cx="96.35" cy="175.70" r="1.25" fill="#333"/>
<line x1="94.60" y1="189.40" x2="132.50" y2="189.40" stroke="#444" stroke-width="1.1" />
<circle cx="108.60" cy="185.60" r="1.25" fill="#333"/>
<circle cx="111.90" cy="185.60" r="1.25" fill="#333"/>
<circle cx="115.20" cy="185.60" r="1.25" fill="#333"/>
<circle cx="118.50" cy="185.60" r="1.25" fill="#333"/>
<line x1="116.00" y1="199.50" x2="139.50" y2="199.50" stroke="#444" stroke-width="1.1" />
<circle cx="124.45" cy="195.70" r="1.25" fill="#333"/>
<circle cx="127.75" cy="195.70" r="1.25" fill="#333"/>
<circle cx="131.05" cy="195.70" r="1.25" fill="#333"/>
<text x="178.60" y="145.80" font-size="11.6" text-anchor="start" fill="#111" font-weight="bold" stroke="#111" stroke-width="0.45">E</text>
<text x="275.80" y="156.60" font-size="9.3" text-anchor="middle" fill="#333" font-weight="normal" textLength="35.9" lengthAdjust="spacingAndGlyphs"  stroke="#333" stroke-width="0.24">Platelets</text>
<line x1="237.30" y1="205.80" x2="237.30" y2="228.70" stroke="#8a85b8" stroke-width="1.1" />
<line x1="234.10" y1="205.80" x2="240.50" y2="205.80" stroke="#8a85b8" stroke-width="1.1" />
<line x1="234.10" y1="228.70" x2="240.50" y2="228.70" stroke="#8a85b8" stroke-width="1.1" />
<circle cx="237.30" cy="186.20" r="1.95" fill="#8a85b8"/>
<circle cx="237.30" cy="203.90" r="1.95" fill="#8a85b8"/>
<circle cx="242.30" cy="205.00" r="1.95" fill="#8a85b8"/>
<circle cx="237.30" cy="209.50" r="1.95" fill="#8a85b8"/>
<circle cx="237.30" cy="214.40" r="1.95" fill="#8a85b8"/>
<circle cx="239.80" cy="217.50" r="1.95" fill="#8a85b8"/>
<circle cx="237.30" cy="223.50" r="1.95" fill="#8a85b8"/>
<circle cx="242.30" cy="223.50" r="1.95" fill="#8a85b8"/>
<circle cx="232.30" cy="224.30" r="1.95" fill="#8a85b8"/>
<circle cx="237.30" cy="228.50" r="1.95" fill="#8a85b8"/>
<circle cx="242.30" cy="229.50" r="1.95" fill="#8a85b8"/>
<circle cx="232.30" cy="230.00" r="1.95" fill="#8a85b8"/>
<circle cx="239.80" cy="232.00" r="1.95" fill="#8a85b8"/>
<circle cx="237.30" cy="234.60" r="1.95" fill="#8a85b8"/>
<line x1="230.80" y1="220.20" x2="243.80" y2="220.20" stroke="#3e3a6a" stroke-width="1.2" />
<rect x="256.15" y="235.65" width="3.90" height="3.90" fill="#b3122f"/>
<rect x="254.15" y="237.85" width="3.90" height="3.90" fill="#b3122f"/>
<rect x="257.35" y="238.05" width="3.90" height="3.90" fill="#b3122f"/>
<rect x="252.15" y="240.35" width="3.90" height="3.90" fill="#b3122f"/>
<rect x="255.65" y="240.35" width="3.90" height="3.90" fill="#b3122f"/>
<rect x="258.55" y="240.55" width="3.90" height="3.90" fill="#b3122f"/>
<rect x="251.15" y="242.75" width="3.90" height="3.90" fill="#b3122f"/>
<rect x="254.15" y="242.75" width="3.90" height="3.90" fill="#b3122f"/>
<rect x="257.15" y="242.75" width="3.90" height="3.90" fill="#b3122f"/>
<rect x="249.65" y="245.25" width="3.90" height="3.90" fill="#b3122f"/>
<rect x="252.65" y="245.25" width="3.90" height="3.90" fill="#b3122f"/>
<rect x="255.65" y="245.25" width="3.90" height="3.90" fill="#b3122f"/>
<rect x="258.65" y="245.25" width="3.90" height="3.90" fill="#b3122f"/>
<rect x="249.15" y="247.75" width="3.90" height="3.90" fill="#b3122f"/>
<rect x="252.15" y="247.75" width="3.90" height="3.90" fill="#b3122f"/>
<rect x="255.15" y="247.75" width="3.90" height="3.90" fill="#b3122f"/>
<rect x="258.15" y="247.75" width="3.90" height="3.90" fill="#b3122f"/>
<rect x="248.65" y="250.25" width="3.90" height="3.90" fill="#b3122f"/>
<rect x="251.65" y="250.25" width="3.90" height="3.90" fill="#b3122f"/>
<rect x="254.65" y="250.25" width="3.90" height="3.90" fill="#b3122f"/>
<rect x="257.65" y="250.25" width="3.90" height="3.90" fill="#b3122f"/>
<rect x="259.65" y="250.55" width="3.90" height="3.90" fill="#b3122f"/>
<rect x="249.15" y="252.75" width="3.90" height="3.90" fill="#b3122f"/>
<rect x="252.15" y="252.75" width="3.90" height="3.90" fill="#b3122f"/>
<rect x="255.15" y="252.75" width="3.90" height="3.90" fill="#b3122f"/>
<rect x="258.15" y="252.75" width="3.90" height="3.90" fill="#b3122f"/>
<rect x="249.65" y="255.25" width="3.90" height="3.90" fill="#b3122f"/>
<rect x="252.65" y="255.25" width="3.90" height="3.90" fill="#b3122f"/>
<rect x="255.65" y="255.25" width="3.90" height="3.90" fill="#b3122f"/>
<rect x="258.65" y="255.25" width="3.90" height="3.90" fill="#b3122f"/>
<line x1="249.60" y1="249.00" x2="262.60" y2="249.00" stroke="#3a2a2a" stroke-width="1.2" />
<path d="M271.10,231.95 L273.15,234.00 L271.10,236.05 L269.05,234.00 Z" fill="#1a3258"/>
<path d="M274.10,232.45 L276.15,234.50 L274.10,236.55 L272.05,234.50 Z" fill="#1a3258"/>
<path d="M277.10,231.95 L279.15,234.00 L277.10,236.05 L275.05,234.00 Z" fill="#1a3258"/>
<path d="M280.10,232.95 L282.15,235.00 L280.10,237.05 L278.05,235.00 Z" fill="#1a3258"/>
<path d="M272.10,235.45 L274.15,237.50 L272.10,239.55 L270.05,237.50 Z" fill="#1a3258"/>
<path d="M278.10,235.45 L280.15,237.50 L278.10,239.55 L276.05,237.50 Z" fill="#1a3258"/>
<path d="M275.10,236.95 L277.15,239.00 L275.10,241.05 L273.05,239.00 Z" fill="#1a3258"/>
<path d="M270.10,238.45 L272.15,240.50 L270.10,242.55 L268.05,240.50 Z" fill="#1a3258"/>
<path d="M273.10,239.45 L275.15,241.50 L273.10,243.55 L271.05,241.50 Z" fill="#1a3258"/>
<path d="M277.10,239.95 L279.15,242.00 L277.10,244.05 L275.05,242.00 Z" fill="#1a3258"/>
<path d="M280.10,238.95 L282.15,241.00 L280.10,243.05 L278.05,241.00 Z" fill="#1a3258"/>
<path d="M272.10,242.45 L274.15,244.50 L272.10,246.55 L270.05,244.50 Z" fill="#1a3258"/>
<path d="M275.10,241.95 L277.15,244.00 L275.10,246.05 L273.05,244.00 Z" fill="#1a3258"/>
<path d="M278.10,242.95 L280.15,245.00 L278.10,247.05 L276.05,245.00 Z" fill="#1a3258"/>
<path d="M271.10,245.45 L273.15,247.50 L271.10,249.55 L269.05,247.50 Z" fill="#1a3258"/>
<path d="M276.10,245.95 L278.15,248.00 L276.10,250.05 L274.05,248.00 Z" fill="#1a3258"/>
<path d="M279.10,246.95 L281.15,249.00 L279.10,251.05 L277.05,249.00 Z" fill="#1a3258"/>
<path d="M273.10,248.95 L275.15,251.00 L273.10,253.05 L271.05,251.00 Z" fill="#1a3258"/>
<path d="M276.60,250.45 L278.65,252.50 L276.60,254.55 L274.55,252.50 Z" fill="#1a3258"/>
<path d="M274.10,252.95 L276.15,255.00 L274.10,257.05 L272.05,255.00 Z" fill="#1a3258"/>
<path d="M275.10,255.45 L277.15,257.50 L275.10,259.55 L273.05,257.50 Z" fill="#1a3258"/>
<line x1="268.60" y1="243.80" x2="281.60" y2="243.80" stroke="#222" stroke-width="1.2" />
<line x1="294.40" y1="234.60" x2="294.40" y2="252.00" stroke="#e4bc2c" stroke-width="1.1" />
<line x1="291.20" y1="234.60" x2="297.60" y2="234.60" stroke="#e4bc2c" stroke-width="1.1" />
<line x1="291.20" y1="252.00" x2="297.60" y2="252.00" stroke="#e4bc2c" stroke-width="1.1" />
<circle cx="293.20" cy="226.30" r="1.95" fill="#e4bc2c"/>
<circle cx="295.90" cy="226.30" r="1.95" fill="#e4bc2c"/>
<circle cx="294.40" cy="234.80" r="1.95" fill="#e4bc2c"/>
<circle cx="289.90" cy="242.00" r="1.95" fill="#e4bc2c"/>
<circle cx="292.40" cy="243.00" r="1.95" fill="#e4bc2c"/>
<circle cx="294.90" cy="242.50" r="1.95" fill="#e4bc2c"/>
<circle cx="297.40" cy="243.50" r="1.95" fill="#e4bc2c"/>
<circle cx="299.90" cy="242.50" r="1.95" fill="#e4bc2c"/>
<circle cx="290.90" cy="245.50" r="1.95" fill="#e4bc2c"/>
<circle cx="294.40" cy="245.80" r="1.95" fill="#e4bc2c"/>
<circle cx="297.40" cy="245.50" r="1.95" fill="#e4bc2c"/>
<circle cx="292.40" cy="249.00" r="1.95" fill="#e4bc2c"/>
<circle cx="296.40" cy="249.50" r="1.95" fill="#e4bc2c"/>
<circle cx="294.40" cy="252.50" r="1.95" fill="#e4bc2c"/>
<circle cx="291.90" cy="253.50" r="1.95" fill="#e4bc2c"/>
<circle cx="296.90" cy="253.80" r="1.95" fill="#e4bc2c"/>
<line x1="287.90" y1="244.20" x2="300.90" y2="244.20" stroke="#333" stroke-width="1.2" />
<line x1="313.80" y1="237.00" x2="313.80" y2="249.00" stroke="#3a8c45" stroke-width="1.1" />
<line x1="310.60" y1="237.00" x2="317.00" y2="237.00" stroke="#3a8c45" stroke-width="1.1" />
<line x1="310.60" y1="249.00" x2="317.00" y2="249.00" stroke="#3a8c45" stroke-width="1.1" />
<path d="M309.00,233.95 L311.05,236.00 L309.00,238.05 L306.95,236.00 Z" fill="#3a8c45"/>
<path d="M318.60,233.95 L320.65,236.00 L318.60,238.05 L316.55,236.00 Z" fill="#3a8c45"/>
<path d="M313.80,235.95 L315.85,238.00 L313.80,240.05 L311.75,238.00 Z" fill="#3a8c45"/>
<path d="M309.00,239.95 L311.05,242.00 L309.00,244.05 L306.95,242.00 Z" fill="#3a8c45"/>
<path d="M318.60,239.95 L320.65,242.00 L318.60,244.05 L316.55,242.00 Z" fill="#3a8c45"/>
<path d="M313.80,243.95 L315.85,246.00 L313.80,248.05 L311.75,246.00 Z" fill="#3a8c45"/>
<path d="M309.00,248.45 L311.05,250.50 L309.00,252.55 L306.95,250.50 Z" fill="#3a8c45"/>
<path d="M318.60,248.45 L320.65,250.50 L318.60,252.55 L316.55,250.50 Z" fill="#3a8c45"/>
<line x1="307.30" y1="242.90" x2="320.30" y2="242.90" stroke="#3a8c45" stroke-width="1.2" />
<line x1="227.60" y1="164.80" x2="227.60" y2="264.40" stroke="#333" stroke-width="1.3" />
<line x1="227.00" y1="263.80" x2="323.30" y2="263.80" stroke="#333" stroke-width="1.3" />
<line x1="224.60" y1="167.40" x2="227.60" y2="167.40" stroke="#333" stroke-width="1.1" />
<text x="222.10" y="170.35" font-size="8.2" text-anchor="end" fill="#2e2e2e" stroke="#2e2e2e" stroke-width="0.24">1200</text>
<line x1="224.60" y1="199.50" x2="227.60" y2="199.50" stroke="#333" stroke-width="1.1" />
<text x="222.10" y="202.45" font-size="8.2" text-anchor="end" fill="#2e2e2e" stroke="#2e2e2e" stroke-width="0.24">800</text>
<line x1="224.60" y1="231.70" x2="227.60" y2="231.70" stroke="#333" stroke-width="1.1" />
<text x="222.10" y="234.65" font-size="8.2" text-anchor="end" fill="#2e2e2e" stroke="#2e2e2e" stroke-width="0.24">400</text>
<line x1="224.60" y1="263.80" x2="227.60" y2="263.80" stroke="#333" stroke-width="1.1" />
<text x="222.10" y="266.75" font-size="8.2" text-anchor="end" fill="#2e2e2e" stroke="#2e2e2e" stroke-width="0.24">0</text>
<line x1="237.30" y1="263.80" x2="237.30" y2="266.60" stroke="#333" stroke-width="1.1" />
<text transform="translate(241.30,274.80) rotate(-45)" font-size="8.2" text-anchor="end" fill="#2e2e2e" stroke="#2e2e2e" stroke-width="0.24">Naive</text>
<line x1="256.10" y1="263.80" x2="256.10" y2="266.60" stroke="#333" stroke-width="1.1" />
<text transform="translate(260.10,274.80) rotate(-45)" font-size="8.2" text-anchor="end" fill="#2e2e2e" stroke="#2e2e2e" stroke-width="0.24">Veh</text>
<line x1="275.10" y1="263.80" x2="275.10" y2="266.60" stroke="#333" stroke-width="1.1" />
<text transform="translate(279.10,274.80) rotate(-45)" font-size="8.2" text-anchor="end" fill="#2e2e2e" stroke="#2e2e2e" stroke-width="0.24">Ita</text>
<line x1="294.40" y1="263.80" x2="294.40" y2="266.60" stroke="#333" stroke-width="1.1" />
<text transform="translate(298.40,274.80) rotate(-45)" font-size="8.2" text-anchor="end" fill="#2e2e2e" stroke="#2e2e2e" stroke-width="0.24">Fed</text>
<line x1="313.80" y1="263.80" x2="313.80" y2="266.60" stroke="#333" stroke-width="1.1" />
<text transform="translate(317.80,274.80) rotate(-45)" font-size="8.2" text-anchor="end" fill="#2e2e2e" stroke="#2e2e2e" stroke-width="0.24">Ruxo</text>
<text transform="translate(199.10,214.10) rotate(-90)" font-size="8.4" text-anchor="middle" fill="#2e2e2e" textLength="28" lengthAdjust="spacingAndGlyphs" stroke="#2e2e2e" stroke-width="0.24">×10<tspan dy="-3" font-size="5.5">3</tspan><tspan dy="3">/uL</tspan></text>
<line x1="256.10" y1="293.50" x2="316.50" y2="293.50" stroke="#444" stroke-width="1.2" />
<text x="286.60" y="304.80" font-size="9.6" text-anchor="middle" fill="#2e2e2e" font-weight="normal" textLength="18.8" lengthAdjust="spacingAndGlyphs"  stroke="#2e2e2e" stroke-width="0.24">LCMV</text>
<line x1="235.00" y1="175.50" x2="261.90" y2="175.50" stroke="#444" stroke-width="1.1" />
<circle cx="243.50" cy="171.70" r="1.25" fill="#333"/>
<circle cx="246.80" cy="171.70" r="1.25" fill="#333"/>
<circle cx="250.10" cy="171.70" r="1.25" fill="#333"/>
<circle cx="253.40" cy="171.70" r="1.25" fill="#333"/>
<text x="339.40" y="145.80" font-size="11.6" text-anchor="start" fill="#111" font-weight="bold" stroke="#111" stroke-width="0.45">F</text>
<text x="445.00" y="156.60" font-size="9.3" text-anchor="middle" fill="#333" font-weight="normal" textLength="29" lengthAdjust="spacingAndGlyphs"  stroke="#333" stroke-width="0.24">Spleen</text>
<circle cx="405.60" cy="240.50" r="1.95" fill="#8a85b8"/>
<circle cx="410.60" cy="242.00" r="1.95" fill="#8a85b8"/>
<circle cx="403.10" cy="243.50" r="1.95" fill="#8a85b8"/>
<circle cx="408.10" cy="244.50" r="1.95" fill="#8a85b8"/>
<circle cx="400.60" cy="245.50" r="1.95" fill="#8a85b8"/>
<circle cx="405.60" cy="246.50" r="1.95" fill="#8a85b8"/>
<circle cx="410.60" cy="247.50" r="1.95" fill="#8a85b8"/>
<circle cx="403.10" cy="248.50" r="1.95" fill="#8a85b8"/>
<circle cx="408.10" cy="249.50" r="1.95" fill="#8a85b8"/>
<circle cx="400.60" cy="250.50" r="1.95" fill="#8a85b8"/>
<circle cx="405.60" cy="251.50" r="1.95" fill="#8a85b8"/>
<circle cx="410.60" cy="252.50" r="1.95" fill="#8a85b8"/>
<line x1="399.10" y1="247.60" x2="412.10" y2="247.60" stroke="#3e3a6a" stroke-width="1.2" />
<rect x="423.65" y="196.55" width="3.90" height="3.90" fill="#b3122f"/>
<rect x="428.65" y="199.05" width="3.90" height="3.90" fill="#b3122f"/>
<rect x="423.65" y="201.05" width="3.90" height="3.90" fill="#b3122f"/>
<rect x="428.65" y="203.05" width="3.90" height="3.90" fill="#b3122f"/>
<rect x="421.15" y="204.55" width="3.90" height="3.90" fill="#b3122f"/>
<rect x="426.15" y="205.55" width="3.90" height="3.90" fill="#b3122f"/>
<rect x="418.65" y="206.55" width="3.90" height="3.90" fill="#b3122f"/>
<rect x="423.65" y="207.55" width="3.90" height="3.90" fill="#b3122f"/>
<rect x="428.65" y="208.55" width="3.90" height="3.90" fill="#b3122f"/>
<rect x="421.15" y="209.55" width="3.90" height="3.90" fill="#b3122f"/>
<rect x="426.15" y="210.55" width="3.90" height="3.90" fill="#b3122f"/>
<rect x="418.65" y="211.55" width="3.90" height="3.90" fill="#b3122f"/>
<rect x="423.65" y="212.55" width="3.90" height="3.90" fill="#b3122f"/>
<rect x="428.65" y="214.05" width="3.90" height="3.90" fill="#b3122f"/>
<rect x="421.15" y="216.05" width="3.90" height="3.90" fill="#b3122f"/>
<rect x="426.15" y="218.05" width="3.90" height="3.90" fill="#b3122f"/>
<rect x="421.15" y="220.05" width="3.90" height="3.90" fill="#b3122f"/>
<rect x="423.65" y="223.05" width="3.90" height="3.90" fill="#b3122f"/>
<line x1="419.10" y1="210.70" x2="432.10" y2="210.70" stroke="#3a2a2a" stroke-width="1.2" />
<path d="M444.90,210.45 L446.95,212.50 L444.90,214.55 L442.85,212.50 Z" fill="#1a3258"/>
<path d="M449.90,212.45 L451.95,214.50 L449.90,216.55 L447.85,214.50 Z" fill="#1a3258"/>
<path d="M442.40,213.95 L444.45,216.00 L442.40,218.05 L440.35,216.00 Z" fill="#1a3258"/>
<path d="M447.40,214.95 L449.45,217.00 L447.40,219.05 L445.35,217.00 Z" fill="#1a3258"/>
<path d="M439.90,215.95 L441.95,218.00 L439.90,220.05 L437.85,218.00 Z" fill="#1a3258"/>
<path d="M444.90,216.95 L446.95,219.00 L444.90,221.05 L442.85,219.00 Z" fill="#1a3258"/>
<path d="M449.90,217.95 L451.95,220.00 L449.90,222.05 L447.85,220.00 Z" fill="#1a3258"/>
<path d="M442.40,218.95 L444.45,221.00 L442.40,223.05 L440.35,221.00 Z" fill="#1a3258"/>
<path d="M447.40,219.95 L449.45,222.00 L447.40,224.05 L445.35,222.00 Z" fill="#1a3258"/>
<path d="M439.90,220.95 L441.95,223.00 L439.90,225.05 L437.85,223.00 Z" fill="#1a3258"/>
<path d="M444.90,221.95 L446.95,224.00 L444.90,226.05 L442.85,224.00 Z" fill="#1a3258"/>
<path d="M449.90,223.45 L451.95,225.50 L449.90,227.55 L447.85,225.50 Z" fill="#1a3258"/>
<path d="M442.40,224.95 L444.45,227.00 L442.40,229.05 L440.35,227.00 Z" fill="#1a3258"/>
<path d="M447.40,226.95 L449.45,229.00 L447.40,231.05 L445.35,229.00 Z" fill="#1a3258"/>
<path d="M442.40,228.95 L444.45,231.00 L442.40,233.05 L440.35,231.00 Z" fill="#1a3258"/>
<line x1="438.40" y1="220.50" x2="451.40" y2="220.50" stroke="#222" stroke-width="1.2" />
<line x1="463.90" y1="214.00" x2="463.90" y2="232.00" stroke="#e4bc2c" stroke-width="1.1" />
<line x1="460.70" y1="214.00" x2="467.10" y2="214.00" stroke="#e4bc2c" stroke-width="1.1" />
<line x1="460.70" y1="232.00" x2="467.10" y2="232.00" stroke="#e4bc2c" stroke-width="1.1" />
<circle cx="463.90" cy="204.80" r="1.95" fill="#e4bc2c"/>
<circle cx="463.90" cy="214.00" r="1.95" fill="#e4bc2c"/>
<circle cx="468.90" cy="215.50" r="1.95" fill="#e4bc2c"/>
<circle cx="461.40" cy="217.00" r="1.95" fill="#e4bc2c"/>
<circle cx="466.40" cy="218.50" r="1.95" fill="#e4bc2c"/>
<circle cx="458.90" cy="220.00" r="1.95" fill="#e4bc2c"/>
<circle cx="463.90" cy="221.50" r="1.95" fill="#e4bc2c"/>
<circle cx="468.90" cy="223.00" r="1.95" fill="#e4bc2c"/>
<circle cx="461.40" cy="224.50" r="1.95" fill="#e4bc2c"/>
<circle cx="466.40" cy="226.00" r="1.95" fill="#e4bc2c"/>
<circle cx="458.90" cy="228.00" r="1.95" fill="#e4bc2c"/>
<circle cx="463.90" cy="230.00" r="1.95" fill="#e4bc2c"/>
<circle cx="466.40" cy="233.00" r="1.95" fill="#e4bc2c"/>
<circle cx="463.90" cy="244.50" r="1.95" fill="#e4bc2c"/>
<line x1="457.40" y1="223.20" x2="470.40" y2="223.20" stroke="#333" stroke-width="1.2" />
<line x1="483.10" y1="214.00" x2="483.10" y2="231.50" stroke="#3a8c45" stroke-width="1.1" />
<line x1="479.90" y1="214.00" x2="486.30" y2="214.00" stroke="#3a8c45" stroke-width="1.1" />
<line x1="479.90" y1="231.50" x2="486.30" y2="231.50" stroke="#3a8c45" stroke-width="1.1" />
<path d="M483.10,208.65 L485.15,210.70 L483.10,212.75 L481.05,210.70 Z" fill="#3a8c45"/>
<path d="M479.10,212.45 L481.15,214.50 L479.10,216.55 L477.05,214.50 Z" fill="#3a8c45"/>
<path d="M487.10,215.45 L489.15,217.50 L487.10,219.55 L485.05,217.50 Z" fill="#3a8c45"/>
<path d="M481.10,218.95 L483.15,221.00 L481.10,223.05 L479.05,221.00 Z" fill="#3a8c45"/>
<path d="M488.10,221.95 L490.15,224.00 L488.10,226.05 L486.05,224.00 Z" fill="#3a8c45"/>
<path d="M478.60,224.45 L480.65,226.50 L478.60,228.55 L476.55,226.50 Z" fill="#3a8c45"/>
<path d="M484.10,227.45 L486.15,229.50 L484.10,231.55 L482.05,229.50 Z" fill="#3a8c45"/>
<path d="M487.60,230.95 L489.65,233.00 L487.60,235.05 L485.55,233.00 Z" fill="#3a8c45"/>
<path d="M483.10,236.35 L485.15,238.40 L483.10,240.45 L481.05,238.40 Z" fill="#3a8c45"/>
<line x1="476.60" y1="222.90" x2="489.60" y2="222.90" stroke="#3a8c45" stroke-width="1.2" />
<line x1="396.60" y1="164.80" x2="396.60" y2="264.40" stroke="#333" stroke-width="1.3" />
<line x1="396.00" y1="263.80" x2="492.60" y2="263.80" stroke="#333" stroke-width="1.3" />
<line x1="393.60" y1="167.40" x2="396.60" y2="167.40" stroke="#333" stroke-width="1.1" />
<text x="391.10" y="170.35" font-size="8.2" text-anchor="end" fill="#2e2e2e" stroke="#2e2e2e" stroke-width="0.24">2.0</text>
<line x1="393.60" y1="191.50" x2="396.60" y2="191.50" stroke="#333" stroke-width="1.1" />
<text x="391.10" y="194.45" font-size="8.2" text-anchor="end" fill="#2e2e2e" stroke="#2e2e2e" stroke-width="0.24">1.5</text>
<line x1="393.60" y1="215.60" x2="396.60" y2="215.60" stroke="#333" stroke-width="1.1" />
<text x="391.10" y="218.55" font-size="8.2" text-anchor="end" fill="#2e2e2e" stroke="#2e2e2e" stroke-width="0.24">1.0</text>
<line x1="393.60" y1="239.70" x2="396.60" y2="239.70" stroke="#333" stroke-width="1.1" />
<text x="391.10" y="242.65" font-size="8.2" text-anchor="end" fill="#2e2e2e" stroke="#2e2e2e" stroke-width="0.24">0.5</text>
<line x1="393.60" y1="263.80" x2="396.60" y2="263.80" stroke="#333" stroke-width="1.1" />
<text x="391.10" y="266.75" font-size="8.2" text-anchor="end" fill="#2e2e2e" stroke="#2e2e2e" stroke-width="0.24">0.0</text>
<line x1="405.60" y1="263.80" x2="405.60" y2="266.60" stroke="#333" stroke-width="1.1" />
<text transform="translate(409.60,274.80) rotate(-45)" font-size="8.2" text-anchor="end" fill="#2e2e2e" stroke="#2e2e2e" stroke-width="0.24">Naive</text>
<line x1="425.60" y1="263.80" x2="425.60" y2="266.60" stroke="#333" stroke-width="1.1" />
<text transform="translate(429.60,274.80) rotate(-45)" font-size="8.2" text-anchor="end" fill="#2e2e2e" stroke="#2e2e2e" stroke-width="0.24">Veh</text>
<line x1="444.90" y1="263.80" x2="444.90" y2="266.60" stroke="#333" stroke-width="1.1" />
<text transform="translate(448.90,274.80) rotate(-45)" font-size="8.2" text-anchor="end" fill="#2e2e2e" stroke="#2e2e2e" stroke-width="0.24">Ita</text>
<line x1="463.90" y1="263.80" x2="463.90" y2="266.60" stroke="#333" stroke-width="1.1" />
<text transform="translate(467.90,274.80) rotate(-45)" font-size="8.2" text-anchor="end" fill="#2e2e2e" stroke="#2e2e2e" stroke-width="0.24">Fed</text>
<line x1="483.10" y1="263.80" x2="483.10" y2="266.60" stroke="#333" stroke-width="1.1" />
<text transform="translate(487.10,274.80) rotate(-45)" font-size="8.2" text-anchor="end" fill="#2e2e2e" stroke="#2e2e2e" stroke-width="0.24">Ruxo</text>
<text transform="translate(373.40,215.60) rotate(-90)" font-size="8.4" text-anchor="middle" fill="#2e2e2e" textLength="86" lengthAdjust="spacingAndGlyphs" stroke="#2e2e2e" stroke-width="0.24">% of  body weight at day 9</text>
<line x1="425.50" y1="293.50" x2="487.60" y2="293.50" stroke="#444" stroke-width="1.2" />
<text x="456.85" y="304.80" font-size="9.6" text-anchor="middle" fill="#2e2e2e" font-weight="normal" textLength="18.8" lengthAdjust="spacingAndGlyphs"  stroke="#2e2e2e" stroke-width="0.24">LCMV</text>
<line x1="406.60" y1="194.70" x2="421.70" y2="194.70" stroke="#444" stroke-width="1.1" />
<circle cx="409.20" cy="190.90" r="1.25" fill="#333"/>
<circle cx="412.50" cy="190.90" r="1.25" fill="#333"/>
<circle cx="415.80" cy="190.90" r="1.25" fill="#333"/>
<circle cx="419.10" cy="190.90" r="1.25" fill="#333"/>
<line x1="423.10" y1="187.30" x2="448.70" y2="187.30" stroke="#444" stroke-width="1.1" />
<circle cx="432.60" cy="183.50" r="1.25" fill="#333"/>
<circle cx="435.90" cy="183.50" r="1.25" fill="#333"/>
<circle cx="439.20" cy="183.50" r="1.25" fill="#333"/>
<line x1="423.10" y1="177.80" x2="465.20" y2="177.80" stroke="#444" stroke-width="1.1" />
<circle cx="439.20" cy="174.00" r="1.25" fill="#333"/>
<circle cx="442.50" cy="174.00" r="1.25" fill="#333"/>
<circle cx="445.80" cy="174.00" r="1.25" fill="#333"/>
<circle cx="449.10" cy="174.00" r="1.25" fill="#333"/>
<line x1="423.10" y1="168.10" x2="484.00" y2="168.10" stroke="#444" stroke-width="1.1" />
<circle cx="450.25" cy="164.30" r="1.25" fill="#333"/>
<circle cx="453.55" cy="164.30" r="1.25" fill="#333"/>
<circle cx="456.85" cy="164.30" r="1.25" fill="#333"/>
<text x="6.80" y="331.90" font-size="11.6" text-anchor="start" fill="#111" font-weight="bold" stroke="#111" stroke-width="0.45">G</text>
<text x="115.00" y="342.50" font-size="9.3" text-anchor="middle" fill="#333" font-weight="normal" textLength="20" lengthAdjust="spacingAndGlyphs"  stroke="#333" stroke-width="0.24">IFNg</text>
<circle cx="71.90" cy="447.00" r="1.95" fill="#8a85b8"/>
<circle cx="73.90" cy="447.00" r="1.95" fill="#8a85b8"/>
<circle cx="75.90" cy="447.00" r="1.95" fill="#8a85b8"/>
<circle cx="77.90" cy="447.00" r="1.95" fill="#8a85b8"/>
<circle cx="79.90" cy="447.00" r="1.95" fill="#8a85b8"/>
<circle cx="81.40" cy="447.00" r="1.95" fill="#8a85b8"/>
<line x1="69.90" y1="447.10" x2="82.90" y2="447.10" stroke="#3e3a6a" stroke-width="1.2" />
<line x1="95.90" y1="396.60" x2="95.90" y2="440.00" stroke="#b3122f" stroke-width="1.1" />
<line x1="92.70" y1="396.60" x2="99.10" y2="396.60" stroke="#b3122f" stroke-width="1.1" />
<line x1="92.70" y1="440.00" x2="99.10" y2="440.00" stroke="#b3122f" stroke-width="1.1" />
<rect x="93.95" y="371.05" width="3.90" height="3.90" fill="#b3122f"/>
<rect x="93.95" y="387.05" width="3.90" height="3.90" fill="#b3122f"/>
<rect x="93.95" y="394.65" width="3.90" height="3.90" fill="#b3122f"/>
<rect x="93.95" y="407.05" width="3.90" height="3.90" fill="#b3122f"/>
<rect x="93.95" y="409.55" width="3.90" height="3.90" fill="#b3122f"/>
<rect x="93.95" y="421.55" width="3.90" height="3.90" fill="#b3122f"/>
<rect x="97.95" y="422.05" width="3.90" height="3.90" fill="#b3122f"/>
<rect x="89.45" y="427.55" width="3.90" height="3.90" fill="#b3122f"/>
<rect x="93.95" y="426.05" width="3.90" height="3.90" fill="#b3122f"/>
<rect x="97.95" y="427.85" width="3.90" height="3.90" fill="#b3122f"/>
<rect x="95.95" y="433.95" width="3.90" height="3.90" fill="#b3122f"/>
<rect x="91.45" y="437.65" width="3.90" height="3.90" fill="#b3122f"/>
<line x1="89.40" y1="415.80" x2="102.40" y2="415.80" stroke="#3a2a2a" stroke-width="1.2" />
<line x1="115.40" y1="393.50" x2="115.40" y2="441.00" stroke="#1a3258" stroke-width="1.1" />
<line x1="112.20" y1="393.50" x2="118.60" y2="393.50" stroke="#1a3258" stroke-width="1.1" />
<line x1="112.20" y1="441.00" x2="118.60" y2="441.00" stroke="#1a3258" stroke-width="1.1" />
<path d="M115.40,370.35 L117.45,372.40 L115.40,374.45 L113.35,372.40 Z" fill="#1a3258"/>
<path d="M115.40,381.35 L117.45,383.40 L115.40,385.45 L113.35,383.40 Z" fill="#1a3258"/>
<path d="M115.40,391.45 L117.45,393.50 L115.40,395.55 L113.35,393.50 Z" fill="#1a3258"/>
<path d="M115.40,412.95 L117.45,415.00 L115.40,417.05 L113.35,415.00 Z" fill="#1a3258"/>
<path d="M115.40,421.95 L117.45,424.00 L115.40,426.05 L113.35,424.00 Z" fill="#1a3258"/>
<path d="M110.50,426.95 L112.55,429.00 L110.50,431.05 L108.45,429.00 Z" fill="#1a3258"/>
<path d="M115.40,428.45 L117.45,430.50 L115.40,432.55 L113.35,430.50 Z" fill="#1a3258"/>
<path d="M113.00,431.95 L115.05,434.00 L113.00,436.05 L110.95,434.00 Z" fill="#1a3258"/>
<path d="M117.00,431.95 L119.05,434.00 L117.00,436.05 L114.95,434.00 Z" fill="#1a3258"/>
<path d="M117.00,436.45 L119.05,438.50 L117.00,440.55 L114.95,438.50 Z" fill="#1a3258"/>
<path d="M113.00,438.95 L115.05,441.00 L113.00,443.05 L110.95,441.00 Z" fill="#1a3258"/>
<line x1="108.90" y1="417.60" x2="121.90" y2="417.60" stroke="#222" stroke-width="1.2" />
<line x1="134.60" y1="415.80" x2="134.60" y2="435.50" stroke="#e4bc2c" stroke-width="1.1" />
<line x1="131.40" y1="415.80" x2="137.80" y2="415.80" stroke="#e4bc2c" stroke-width="1.1" />
<line x1="131.40" y1="435.50" x2="137.80" y2="435.50" stroke="#e4bc2c" stroke-width="1.1" />
<circle cx="131.60" cy="419.50" r="1.95" fill="#e4bc2c"/>
<circle cx="134.60" cy="419.50" r="1.95" fill="#e4bc2c"/>
<circle cx="137.60" cy="419.50" r="1.95" fill="#e4bc2c"/>
<circle cx="130.60" cy="422.50" r="1.95" fill="#e4bc2c"/>
<circle cx="138.60" cy="422.50" r="1.95" fill="#e4bc2c"/>
<circle cx="133.10" cy="423.00" r="1.95" fill="#e4bc2c"/>
<circle cx="136.10" cy="425.00" r="1.95" fill="#e4bc2c"/>
<circle cx="134.60" cy="434.50" r="1.95" fill="#e4bc2c"/>
<circle cx="134.60" cy="441.00" r="1.95" fill="#e4bc2c"/>
<line x1="128.10" y1="425.90" x2="141.10" y2="425.90" stroke="#333" stroke-width="1.2" />
<line x1="153.90" y1="410.20" x2="153.90" y2="447.30" stroke="#3a8c45" stroke-width="1.1" />
<line x1="150.70" y1="410.20" x2="157.10" y2="410.20" stroke="#3a8c45" stroke-width="1.1" />
<line x1="150.70" y1="447.30" x2="157.10" y2="447.30" stroke="#3a8c45" stroke-width="1.1" />
<path d="M153.90,400.35 L155.95,402.40 L153.90,404.45 L151.85,402.40 Z" fill="#3a8c45"/>
<path d="M149.40,431.95 L151.45,434.00 L149.40,436.05 L147.35,434.00 Z" fill="#3a8c45"/>
<path d="M158.40,431.95 L160.45,434.00 L158.40,436.05 L156.35,434.00 Z" fill="#3a8c45"/>
<path d="M153.90,444.45 L155.95,446.50 L153.90,448.55 L151.85,446.50 Z" fill="#3a8c45"/>
<line x1="147.40" y1="429.20" x2="160.40" y2="429.20" stroke="#3a8c45" stroke-width="1.2" />
<line x1="66.70" y1="348.60" x2="66.70" y2="448.60" stroke="#333" stroke-width="1.3" />
<line x1="66.10" y1="448.00" x2="163.40" y2="448.00" stroke="#333" stroke-width="1.3" />
<line x1="63.70" y1="351.20" x2="66.70" y2="351.20" stroke="#333" stroke-width="1.1" />
<text x="61.20" y="354.15" font-size="8.2" text-anchor="end" fill="#2e2e2e" stroke="#2e2e2e" stroke-width="0.24"><tspan font-size="8.2">2.0×10</tspan><tspan dy="-3.2" font-size="5.8">5</tspan></text>
<line x1="63.70" y1="375.40" x2="66.70" y2="375.40" stroke="#333" stroke-width="1.1" />
<text x="61.20" y="378.35" font-size="8.2" text-anchor="end" fill="#2e2e2e" stroke="#2e2e2e" stroke-width="0.24"><tspan font-size="8.2">1.5×10</tspan><tspan dy="-3.2" font-size="5.8">5</tspan></text>
<line x1="63.70" y1="399.60" x2="66.70" y2="399.60" stroke="#333" stroke-width="1.1" />
<text x="61.20" y="402.55" font-size="8.2" text-anchor="end" fill="#2e2e2e" stroke="#2e2e2e" stroke-width="0.24"><tspan font-size="8.2">1.0×10</tspan><tspan dy="-3.2" font-size="5.8">5</tspan></text>
<line x1="63.70" y1="423.80" x2="66.70" y2="423.80" stroke="#333" stroke-width="1.1" />
<text x="61.20" y="426.75" font-size="8.2" text-anchor="end" fill="#2e2e2e" stroke="#2e2e2e" stroke-width="0.24"><tspan font-size="8.2">5.0×10</tspan><tspan dy="-3.2" font-size="5.8">4</tspan></text>
<line x1="63.70" y1="448.00" x2="66.70" y2="448.00" stroke="#333" stroke-width="1.1" />
<text x="61.20" y="450.95" font-size="8.2" text-anchor="end" fill="#2e2e2e" stroke="#2e2e2e" stroke-width="0.24">0.0</text>
<line x1="76.40" y1="448.00" x2="76.40" y2="450.80" stroke="#333" stroke-width="1.1" />
<text transform="translate(80.40,459.00) rotate(-45)" font-size="8.2" text-anchor="end" fill="#2e2e2e" stroke="#2e2e2e" stroke-width="0.24">Naive</text>
<line x1="95.90" y1="448.00" x2="95.90" y2="450.80" stroke="#333" stroke-width="1.1" />
<text transform="translate(99.90,459.00) rotate(-45)" font-size="8.2" text-anchor="end" fill="#2e2e2e" stroke="#2e2e2e" stroke-width="0.24">Veh</text>
<line x1="115.40" y1="448.00" x2="115.40" y2="450.80" stroke="#333" stroke-width="1.1" />
<text transform="translate(119.40,459.00) rotate(-45)" font-size="8.2" text-anchor="end" fill="#2e2e2e" stroke="#2e2e2e" stroke-width="0.24">Ita</text>
<line x1="134.60" y1="448.00" x2="134.60" y2="450.80" stroke="#333" stroke-width="1.1" />
<text transform="translate(138.60,459.00) rotate(-45)" font-size="8.2" text-anchor="end" fill="#2e2e2e" stroke="#2e2e2e" stroke-width="0.24">Fed</text>
<line x1="153.90" y1="448.00" x2="153.90" y2="450.80" stroke="#333" stroke-width="1.1" />
<text transform="translate(157.90,459.00) rotate(-45)" font-size="8.2" text-anchor="end" fill="#2e2e2e" stroke="#2e2e2e" stroke-width="0.24">Ruxo</text>
<text transform="translate(26.30,398.10) rotate(-90)" font-size="8.4" text-anchor="middle" fill="#2e2e2e" textLength="20.8" lengthAdjust="spacingAndGlyphs" stroke="#2e2e2e" stroke-width="0.24">pg/ml</text>
<line x1="96.10" y1="477.40" x2="155.80" y2="477.40" stroke="#444" stroke-width="1.2" />
<text x="126.25" y="488.70" font-size="9.6" text-anchor="middle" fill="#2e2e2e" font-weight="normal" textLength="18.8" lengthAdjust="spacingAndGlyphs"  stroke="#2e2e2e" stroke-width="0.24">LCMV</text>
<line x1="74.00" y1="363.90" x2="96.60" y2="363.90" stroke="#444" stroke-width="1.1" />
<circle cx="85.30" cy="360.10" r="1.25" fill="#333"/>
<text x="178.60" y="331.90" font-size="11.6" text-anchor="start" fill="#111" font-weight="bold" stroke="#111" stroke-width="0.45">H</text>
<text x="275.50" y="342.50" font-size="9.3" text-anchor="middle" fill="#333" font-weight="normal" textLength="17.5" lengthAdjust="spacingAndGlyphs"  stroke="#333" stroke-width="0.24">TNF</text>
<circle cx="237.00" cy="435.70" r="1.95" fill="#8a85b8"/>
<circle cx="237.50" cy="441.00" r="1.95" fill="#8a85b8"/>
<circle cx="233.80" cy="443.50" r="1.95" fill="#8a85b8"/>
<circle cx="240.80" cy="443.50" r="1.95" fill="#8a85b8"/>
<circle cx="232.30" cy="446.00" r="1.95" fill="#8a85b8"/>
<circle cx="235.80" cy="446.00" r="1.95" fill="#8a85b8"/>
<circle cx="238.80" cy="446.00" r="1.95" fill="#8a85b8"/>
<circle cx="242.30" cy="446.00" r="1.95" fill="#8a85b8"/>
<circle cx="234.30" cy="447.50" r="1.95" fill="#8a85b8"/>
<circle cx="240.30" cy="447.50" r="1.95" fill="#8a85b8"/>
<line x1="230.80" y1="444.90" x2="243.80" y2="444.90" stroke="#3e3a6a" stroke-width="1.2" />
<line x1="256.10" y1="383.20" x2="256.10" y2="421.00" stroke="#b3122f" stroke-width="1.1" />
<line x1="252.90" y1="383.20" x2="259.30" y2="383.20" stroke="#b3122f" stroke-width="1.1" />
<line x1="252.90" y1="421.00" x2="259.30" y2="421.00" stroke="#b3122f" stroke-width="1.1" />
<rect x="259.25" y="366.95" width="3.90" height="3.90" fill="#b3122f"/>
<rect x="254.55" y="369.85" width="3.90" height="3.90" fill="#b3122f"/>
<rect x="254.55" y="376.05" width="3.90" height="3.90" fill="#b3122f"/>
<rect x="254.15" y="381.25" width="3.90" height="3.90" fill="#b3122f"/>
<rect x="249.85" y="386.25" width="3.90" height="3.90" fill="#b3122f"/>
<rect x="254.25" y="388.55" width="3.90" height="3.90" fill="#b3122f"/>
<rect x="254.15" y="397.35" width="3.90" height="3.90" fill="#b3122f"/>
<rect x="249.85" y="401.55" width="3.90" height="3.90" fill="#b3122f"/>
<rect x="251.35" y="409.55" width="3.90" height="3.90" fill="#b3122f"/>
<rect x="257.05" y="410.45" width="3.90" height="3.90" fill="#b3122f"/>
<rect x="254.15" y="413.45" width="3.90" height="3.90" fill="#b3122f"/>
<rect x="249.85" y="416.65" width="3.90" height="3.90" fill="#b3122f"/>
<rect x="259.25" y="418.25" width="3.90" height="3.90" fill="#b3122f"/>
<rect x="254.55" y="421.55" width="3.90" height="3.90" fill="#b3122f"/>
<rect x="254.15" y="433.75" width="3.90" height="3.90" fill="#b3122f"/>
<line x1="249.60" y1="402.10" x2="262.60" y2="402.10" stroke="#3a2a2a" stroke-width="1.2" />
<line x1="275.10" y1="390.20" x2="275.10" y2="426.00" stroke="#1a3258" stroke-width="1.1" />
<line x1="271.90" y1="390.20" x2="278.30" y2="390.20" stroke="#1a3258" stroke-width="1.1" />
<line x1="271.90" y1="426.00" x2="278.30" y2="426.00" stroke="#1a3258" stroke-width="1.1" />
<path d="M275.60,369.95 L277.65,372.00 L275.60,374.05 L273.55,372.00 Z" fill="#1a3258"/>
<path d="M276.50,377.45 L278.55,379.50 L276.50,381.55 L274.45,379.50 Z" fill="#1a3258"/>
<path d="M274.00,379.45 L276.05,381.50 L274.00,383.55 L271.95,381.50 Z" fill="#1a3258"/>
<path d="M275.20,388.15 L277.25,390.20 L275.20,392.25 L273.15,390.20 Z" fill="#1a3258"/>
<path d="M275.20,395.55 L277.25,397.60 L275.20,399.65 L273.15,397.60 Z" fill="#1a3258"/>
<path d="M275.20,400.95 L277.25,403.00 L275.20,405.05 L273.15,403.00 Z" fill="#1a3258"/>
<path d="M275.20,407.65 L277.25,409.70 L275.20,411.75 L273.15,409.70 Z" fill="#1a3258"/>
<path d="M271.00,411.95 L273.05,414.00 L271.00,416.05 L268.95,414.00 Z" fill="#1a3258"/>
<path d="M279.70,411.95 L281.75,414.00 L279.70,416.05 L277.65,414.00 Z" fill="#1a3258"/>
<path d="M275.20,416.95 L277.25,419.00 L275.20,421.05 L273.15,419.00 Z" fill="#1a3258"/>
<path d="M271.00,419.45 L273.05,421.50 L271.00,423.55 L268.95,421.50 Z" fill="#1a3258"/>
<path d="M279.70,419.45 L281.75,421.50 L279.70,423.55 L277.65,421.50 Z" fill="#1a3258"/>
<path d="M275.20,423.45 L277.25,425.50 L275.20,427.55 L273.15,425.50 Z" fill="#1a3258"/>
<line x1="268.60" y1="408.00" x2="281.60" y2="408.00" stroke="#222" stroke-width="1.2" />
<line x1="294.40" y1="400.20" x2="294.40" y2="426.00" stroke="#e4bc2c" stroke-width="1.1" />
<line x1="291.20" y1="400.20" x2="297.60" y2="400.20" stroke="#e4bc2c" stroke-width="1.1" />
<line x1="291.20" y1="426.00" x2="297.60" y2="426.00" stroke="#e4bc2c" stroke-width="1.1" />
<circle cx="295.00" cy="387.20" r="1.95" fill="#e4bc2c"/>
<circle cx="292.00" cy="399.50" r="1.95" fill="#e4bc2c"/>
<circle cx="298.50" cy="399.50" r="1.95" fill="#e4bc2c"/>
<circle cx="295.00" cy="404.00" r="1.95" fill="#e4bc2c"/>
<circle cx="292.50" cy="407.50" r="1.95" fill="#e4bc2c"/>
<circle cx="299.00" cy="407.50" r="1.95" fill="#e4bc2c"/>
<circle cx="295.00" cy="414.50" r="1.95" fill="#e4bc2c"/>
<circle cx="292.50" cy="420.50" r="1.95" fill="#e4bc2c"/>
<circle cx="298.50" cy="420.50" r="1.95" fill="#e4bc2c"/>
<circle cx="295.00" cy="426.00" r="1.95" fill="#e4bc2c"/>
<circle cx="292.50" cy="425.50" r="1.95" fill="#e4bc2c"/>
<circle cx="298.00" cy="425.50" r="1.95" fill="#e4bc2c"/>
<circle cx="295.00" cy="430.50" r="1.95" fill="#e4bc2c"/>
<line x1="287.90" y1="413.50" x2="300.90" y2="413.50" stroke="#333" stroke-width="1.2" />
<path d="M312.60,420.95 L314.65,423.00 L312.60,425.05 L310.55,423.00 Z" fill="#3a8c45"/>
<path d="M315.60,422.45 L317.65,424.50 L315.60,426.55 L313.55,424.50 Z" fill="#3a8c45"/>
<path d="M308.60,426.45 L310.65,428.50 L308.60,430.55 L306.55,428.50 Z" fill="#3a8c45"/>
<path d="M312.60,425.95 L314.65,428.00 L312.60,430.05 L310.55,428.00 Z" fill="#3a8c45"/>
<path d="M316.10,425.95 L318.15,428.00 L316.10,430.05 L314.05,428.00 Z" fill="#3a8c45"/>
<path d="M319.60,426.45 L321.65,428.50 L319.60,430.55 L317.55,428.50 Z" fill="#3a8c45"/>
<path d="M310.60,428.95 L312.65,431.00 L310.60,433.05 L308.55,431.00 Z" fill="#3a8c45"/>
<path d="M314.60,428.95 L316.65,431.00 L314.60,433.05 L312.55,431.00 Z" fill="#3a8c45"/>
<path d="M318.10,430.45 L320.15,432.50 L318.10,434.55 L316.05,432.50 Z" fill="#3a8c45"/>
<line x1="307.30" y1="428.50" x2="320.30" y2="428.50" stroke="#3a8c45" stroke-width="1.2" />
<line x1="227.50" y1="348.60" x2="227.50" y2="448.60" stroke="#333" stroke-width="1.3" />
<line x1="226.90" y1="448.00" x2="323.30" y2="448.00" stroke="#333" stroke-width="1.3" />
<line x1="224.50" y1="351.20" x2="227.50" y2="351.20" stroke="#333" stroke-width="1.1" />
<text x="222.00" y="354.15" font-size="8.2" text-anchor="end" fill="#2e2e2e" stroke="#2e2e2e" stroke-width="0.24">500</text>
<line x1="224.50" y1="370.60" x2="227.50" y2="370.60" stroke="#333" stroke-width="1.1" />
<text x="222.00" y="373.55" font-size="8.2" text-anchor="end" fill="#2e2e2e" stroke="#2e2e2e" stroke-width="0.24">400</text>
<line x1="224.50" y1="389.90" x2="227.50" y2="389.90" stroke="#333" stroke-width="1.1" />
<text x="222.00" y="392.85" font-size="8.2" text-anchor="end" fill="#2e2e2e" stroke="#2e2e2e" stroke-width="0.24">300</text>
<line x1="224.50" y1="409.30" x2="227.50" y2="409.30" stroke="#333" stroke-width="1.1" />
<text x="222.00" y="412.25" font-size="8.2" text-anchor="end" fill="#2e2e2e" stroke="#2e2e2e" stroke-width="0.24">200</text>
<line x1="224.50" y1="428.60" x2="227.50" y2="428.60" stroke="#333" stroke-width="1.1" />
<text x="222.00" y="431.55" font-size="8.2" text-anchor="end" fill="#2e2e2e" stroke="#2e2e2e" stroke-width="0.24">100</text>
<line x1="224.50" y1="448.00" x2="227.50" y2="448.00" stroke="#333" stroke-width="1.1" />
<text x="222.00" y="450.95" font-size="8.2" text-anchor="end" fill="#2e2e2e" stroke="#2e2e2e" stroke-width="0.24">0</text>
<line x1="237.30" y1="448.00" x2="237.30" y2="450.80" stroke="#333" stroke-width="1.1" />
<text transform="translate(241.30,459.00) rotate(-45)" font-size="8.2" text-anchor="end" fill="#2e2e2e" stroke="#2e2e2e" stroke-width="0.24">Naive</text>
<line x1="256.10" y1="448.00" x2="256.10" y2="450.80" stroke="#333" stroke-width="1.1" />
<text transform="translate(260.10,459.00) rotate(-45)" font-size="8.2" text-anchor="end" fill="#2e2e2e" stroke="#2e2e2e" stroke-width="0.24">Veh</text>
<line x1="275.10" y1="448.00" x2="275.10" y2="450.80" stroke="#333" stroke-width="1.1" />
<text transform="translate(279.10,459.00) rotate(-45)" font-size="8.2" text-anchor="end" fill="#2e2e2e" stroke="#2e2e2e" stroke-width="0.24">Ita</text>
<line x1="294.40" y1="448.00" x2="294.40" y2="450.80" stroke="#333" stroke-width="1.1" />
<text transform="translate(298.40,459.00) rotate(-45)" font-size="8.2" text-anchor="end" fill="#2e2e2e" stroke="#2e2e2e" stroke-width="0.24">Fed</text>
<line x1="313.80" y1="448.00" x2="313.80" y2="450.80" stroke="#333" stroke-width="1.1" />
<text transform="translate(317.80,459.00) rotate(-45)" font-size="8.2" text-anchor="end" fill="#2e2e2e" stroke="#2e2e2e" stroke-width="0.24">Ruxo</text>
<text transform="translate(201.80,398.10) rotate(-90)" font-size="8.4" text-anchor="middle" fill="#2e2e2e" textLength="20.8" lengthAdjust="spacingAndGlyphs" stroke="#2e2e2e" stroke-width="0.24">pg/ml</text>
<line x1="256.10" y1="477.40" x2="316.50" y2="477.40" stroke="#444" stroke-width="1.2" />
<text x="286.60" y="488.70" font-size="9.6" text-anchor="middle" fill="#2e2e2e" font-weight="normal" textLength="18.8" lengthAdjust="spacingAndGlyphs"  stroke="#2e2e2e" stroke-width="0.24">LCMV</text>
<line x1="232.60" y1="365.50" x2="256.80" y2="365.50" stroke="#444" stroke-width="1.1" />
<circle cx="239.75" cy="361.70" r="1.25" fill="#333"/>
<circle cx="243.05" cy="361.70" r="1.25" fill="#333"/>
<circle cx="246.35" cy="361.70" r="1.25" fill="#333"/>
<circle cx="249.65" cy="361.70" r="1.25" fill="#333"/>
<line x1="258.20" y1="357.80" x2="316.40" y2="357.80" stroke="#444" stroke-width="1.1" />
<circle cx="284.00" cy="354.00" r="1.25" fill="#333"/>
<circle cx="287.30" cy="354.00" r="1.25" fill="#333"/>
<circle cx="290.60" cy="354.00" r="1.25" fill="#333"/>
<line x1="277.00" y1="367.20" x2="316.40" y2="367.20" stroke="#444" stroke-width="1.1" />
<circle cx="296.70" cy="363.40" r="1.25" fill="#333"/>
<text x="339.40" y="331.90" font-size="11.6" text-anchor="start" fill="#111" font-weight="bold" stroke="#111" stroke-width="0.45">I</text>
<text x="445.00" y="342.50" font-size="9.3" text-anchor="middle" fill="#333" font-weight="normal" textLength="17.5" lengthAdjust="spacingAndGlyphs"  stroke="#333" stroke-width="0.24">IL-6</text>
<circle cx="401.10" cy="446.60" r="1.95" fill="#8a85b8"/>
<circle cx="403.10" cy="446.60" r="1.95" fill="#8a85b8"/>
<circle cx="405.10" cy="446.60" r="1.95" fill="#8a85b8"/>
<circle cx="407.10" cy="446.60" r="1.95" fill="#8a85b8"/>
<circle cx="409.10" cy="446.60" r="1.95" fill="#8a85b8"/>
<circle cx="410.60" cy="446.60" r="1.95" fill="#8a85b8"/>
<line x1="399.10" y1="446.80" x2="412.10" y2="446.80" stroke="#3e3a6a" stroke-width="1.2" />
<line x1="425.60" y1="420.00" x2="425.60" y2="447.30" stroke="#b3122f" stroke-width="1.1" />
<line x1="422.40" y1="420.00" x2="428.80" y2="420.00" stroke="#b3122f" stroke-width="1.1" />
<line x1="422.40" y1="447.30" x2="428.80" y2="447.30" stroke="#b3122f" stroke-width="1.1" />
<rect x="423.85" y="394.85" width="3.90" height="3.90" fill="#b3122f"/>
<rect x="423.85" y="410.55" width="3.90" height="3.90" fill="#b3122f"/>
<rect x="423.85" y="418.05" width="3.90" height="3.90" fill="#b3122f"/>
<rect x="423.85" y="423.05" width="3.90" height="3.90" fill="#b3122f"/>
<rect x="421.05" y="427.05" width="3.90" height="3.90" fill="#b3122f"/>
<rect x="427.05" y="426.05" width="3.90" height="3.90" fill="#b3122f"/>
<rect x="423.05" y="433.05" width="3.90" height="3.90" fill="#b3122f"/>
<rect x="419.55" y="436.55" width="3.90" height="3.90" fill="#b3122f"/>
<rect x="425.05" y="436.05" width="3.90" height="3.90" fill="#b3122f"/>
<rect x="428.05" y="438.05" width="3.90" height="3.90" fill="#b3122f"/>
<rect x="420.05" y="441.05" width="3.90" height="3.90" fill="#b3122f"/>
<rect x="424.05" y="442.05" width="3.90" height="3.90" fill="#b3122f"/>
<rect x="428.05" y="442.55" width="3.90" height="3.90" fill="#b3122f"/>
<rect x="422.05" y="444.05" width="3.90" height="3.90" fill="#b3122f"/>
<rect x="419.15" y="439.05" width="3.90" height="3.90" fill="#b3122f"/>
<rect x="428.15" y="440.05" width="3.90" height="3.90" fill="#b3122f"/>
<rect x="421.65" y="445.05" width="3.90" height="3.90" fill="#b3122f"/>
<rect x="425.65" y="445.05" width="3.90" height="3.90" fill="#b3122f"/>
<rect x="419.15" y="444.05" width="3.90" height="3.90" fill="#b3122f"/>
<rect x="428.15" y="444.55" width="3.90" height="3.90" fill="#b3122f"/>
<rect x="423.65" y="438.05" width="3.90" height="3.90" fill="#b3122f"/>
<line x1="419.10" y1="432.60" x2="432.10" y2="432.60" stroke="#3a2a2a" stroke-width="1.2" />
<line x1="444.90" y1="411.90" x2="444.90" y2="447.30" stroke="#1a3258" stroke-width="1.1" />
<line x1="441.70" y1="411.90" x2="448.10" y2="411.90" stroke="#1a3258" stroke-width="1.1" />
<line x1="441.70" y1="447.30" x2="448.10" y2="447.30" stroke="#1a3258" stroke-width="1.1" />
<path d="M444.90,381.25 L446.95,383.30 L444.90,385.35 L442.85,383.30 Z" fill="#1a3258"/>
<path d="M444.90,401.45 L446.95,403.50 L444.90,405.55 L442.85,403.50 Z" fill="#1a3258"/>
<path d="M444.90,418.75 L446.95,420.80 L444.90,422.85 L442.85,420.80 Z" fill="#1a3258"/>
<path d="M444.90,435.45 L446.95,437.50 L444.90,439.55 L442.85,437.50 Z" fill="#1a3258"/>
<path d="M440.90,438.45 L442.95,440.50 L440.90,442.55 L438.85,440.50 Z" fill="#1a3258"/>
<path d="M448.90,438.45 L450.95,440.50 L448.90,442.55 L446.85,440.50 Z" fill="#1a3258"/>
<path d="M442.90,441.45 L444.95,443.50 L442.90,445.55 L440.85,443.50 Z" fill="#1a3258"/>
<path d="M447.40,441.45 L449.45,443.50 L447.40,445.55 L445.35,443.50 Z" fill="#1a3258"/>
<path d="M444.90,443.45 L446.95,445.50 L444.90,447.55 L442.85,445.50 Z" fill="#1a3258"/>
<line x1="438.40" y1="430.70" x2="451.40" y2="430.70" stroke="#222" stroke-width="1.2" />
<circle cx="459.90" cy="436.00" r="1.95" fill="#e4bc2c"/>
<circle cx="462.90" cy="435.50" r="1.95" fill="#e4bc2c"/>
<circle cx="465.90" cy="436.00" r="1.95" fill="#e4bc2c"/>
<circle cx="468.90" cy="435.50" r="1.95" fill="#e4bc2c"/>
<circle cx="461.90" cy="441.50" r="1.95" fill="#e4bc2c"/>
<circle cx="465.40" cy="441.50" r="1.95" fill="#e4bc2c"/>
<circle cx="462.90" cy="444.50" r="1.95" fill="#e4bc2c"/>
<circle cx="465.90" cy="444.00" r="1.95" fill="#e4bc2c"/>
<line x1="457.40" y1="439.20" x2="470.40" y2="439.20" stroke="#333" stroke-width="1.2" />
<path d="M483.60,433.45 L485.65,435.50 L483.60,437.55 L481.55,435.50 Z" fill="#3a8c45"/>
<path d="M480.10,437.95 L482.15,440.00 L480.10,442.05 L478.05,440.00 Z" fill="#3a8c45"/>
<path d="M487.10,437.95 L489.15,440.00 L487.10,442.05 L485.05,440.00 Z" fill="#3a8c45"/>
<path d="M478.60,438.95 L480.65,441.00 L478.60,443.05 L476.55,441.00 Z" fill="#3a8c45"/>
<path d="M489.10,438.95 L491.15,441.00 L489.10,443.05 L487.05,441.00 Z" fill="#3a8c45"/>
<path d="M483.10,439.45 L485.15,441.50 L483.10,443.55 L481.05,441.50 Z" fill="#3a8c45"/>
<path d="M484.10,441.95 L486.15,444.00 L484.10,446.05 L482.05,444.00 Z" fill="#3a8c45"/>
<path d="M481.10,443.45 L483.15,445.50 L481.10,447.55 L479.05,445.50 Z" fill="#3a8c45"/>
<line x1="476.60" y1="440.30" x2="489.60" y2="440.30" stroke="#3a8c45" stroke-width="1.2" />
<line x1="396.40" y1="348.60" x2="396.40" y2="448.40" stroke="#333" stroke-width="1.3" />
<line x1="395.80" y1="447.80" x2="492.60" y2="447.80" stroke="#333" stroke-width="1.3" />
<line x1="393.40" y1="351.20" x2="396.40" y2="351.20" stroke="#333" stroke-width="1.1" />
<text x="390.90" y="354.15" font-size="8.2" text-anchor="end" fill="#2e2e2e" stroke="#2e2e2e" stroke-width="0.24">2000</text>
<line x1="393.40" y1="375.40" x2="396.40" y2="375.40" stroke="#333" stroke-width="1.1" />
<text x="390.90" y="378.35" font-size="8.2" text-anchor="end" fill="#2e2e2e" stroke="#2e2e2e" stroke-width="0.24">1500</text>
<line x1="393.40" y1="399.50" x2="396.40" y2="399.50" stroke="#333" stroke-width="1.1" />
<text x="390.90" y="402.45" font-size="8.2" text-anchor="end" fill="#2e2e2e" stroke="#2e2e2e" stroke-width="0.24">1000</text>
<line x1="393.40" y1="423.70" x2="396.40" y2="423.70" stroke="#333" stroke-width="1.1" />
<text x="390.90" y="426.65" font-size="8.2" text-anchor="end" fill="#2e2e2e" stroke="#2e2e2e" stroke-width="0.24">500</text>
<line x1="393.40" y1="447.80" x2="396.40" y2="447.80" stroke="#333" stroke-width="1.1" />
<text x="390.90" y="450.75" font-size="8.2" text-anchor="end" fill="#2e2e2e" stroke="#2e2e2e" stroke-width="0.24">0</text>
<line x1="405.60" y1="447.80" x2="405.60" y2="450.60" stroke="#333" stroke-width="1.1" />
<text transform="translate(409.60,458.80) rotate(-45)" font-size="8.2" text-anchor="end" fill="#2e2e2e" stroke="#2e2e2e" stroke-width="0.24">Naive</text>
<line x1="425.60" y1="447.80" x2="425.60" y2="450.60" stroke="#333" stroke-width="1.1" />
<text transform="translate(429.60,458.80) rotate(-45)" font-size="8.2" text-anchor="end" fill="#2e2e2e" stroke="#2e2e2e" stroke-width="0.24">Veh</text>
<line x1="444.90" y1="447.80" x2="444.90" y2="450.60" stroke="#333" stroke-width="1.1" />
<text transform="translate(448.90,458.80) rotate(-45)" font-size="8.2" text-anchor="end" fill="#2e2e2e" stroke="#2e2e2e" stroke-width="0.24">Ita</text>
<line x1="463.90" y1="447.80" x2="463.90" y2="450.60" stroke="#333" stroke-width="1.1" />
<text transform="translate(467.90,458.80) rotate(-45)" font-size="8.2" text-anchor="end" fill="#2e2e2e" stroke="#2e2e2e" stroke-width="0.24">Fed</text>
<line x1="483.10" y1="447.80" x2="483.10" y2="450.60" stroke="#333" stroke-width="1.1" />
<text transform="translate(487.10,458.80) rotate(-45)" font-size="8.2" text-anchor="end" fill="#2e2e2e" stroke="#2e2e2e" stroke-width="0.24">Ruxo</text>
<text transform="translate(366.80,398.00) rotate(-90)" font-size="8.4" text-anchor="middle" fill="#2e2e2e" textLength="20.8" lengthAdjust="spacingAndGlyphs" stroke="#2e2e2e" stroke-width="0.24">pg/ml</text>
<line x1="425.50" y1="477.40" x2="487.60" y2="477.40" stroke="#444" stroke-width="1.2" />
<text x="456.85" y="488.70" font-size="9.6" text-anchor="middle" fill="#2e2e2e" font-weight="normal" textLength="18.8" lengthAdjust="spacingAndGlyphs"  stroke="#2e2e2e" stroke-width="0.24">LCMV</text>
<line x1="403.90" y1="368.90" x2="424.10" y2="368.90" stroke="#444" stroke-width="1.1" />
<circle cx="412.35" cy="365.10" r="1.25" fill="#333"/>
<circle cx="415.65" cy="365.10" r="1.25" fill="#333"/>
<text x="6.80" y="516.00" font-size="11.6" text-anchor="start" fill="#111" font-weight="bold" stroke="#111" stroke-width="0.45">J</text>
<text x="115.00" y="526.70" font-size="9.3" text-anchor="middle" fill="#333" font-weight="normal" textLength="28" lengthAdjust="spacingAndGlyphs"  stroke="#333" stroke-width="0.24">sCD25</text>
<line x1="76.70" y1="599.00" x2="76.70" y2="607.00" stroke="#8a85b8" stroke-width="1.1" />
<line x1="73.50" y1="599.00" x2="79.90" y2="599.00" stroke="#8a85b8" stroke-width="1.1" />
<line x1="73.50" y1="607.00" x2="79.90" y2="607.00" stroke="#8a85b8" stroke-width="1.1" />
<circle cx="71.70" cy="599.00" r="1.95" fill="#8a85b8"/>
<circle cx="76.70" cy="599.00" r="1.95" fill="#8a85b8"/>
<circle cx="81.70" cy="599.00" r="1.95" fill="#8a85b8"/>
<circle cx="72.20" cy="602.50" r="1.95" fill="#8a85b8"/>
<circle cx="77.00" cy="606.00" r="1.95" fill="#8a85b8"/>
<circle cx="75.00" cy="611.00" r="1.95" fill="#8a85b8"/>
<circle cx="76.50" cy="607.50" r="1.95" fill="#8a85b8"/>
<line x1="70.20" y1="603.50" x2="83.20" y2="603.50" stroke="#3e3a6a" stroke-width="1.2" />
<line x1="95.90" y1="579.20" x2="95.90" y2="602.60" stroke="#b3122f" stroke-width="1.1" />
<line x1="92.70" y1="579.20" x2="99.10" y2="579.20" stroke="#b3122f" stroke-width="1.1" />
<line x1="92.70" y1="602.60" x2="99.10" y2="602.60" stroke="#b3122f" stroke-width="1.1" />
<rect x="93.55" y="568.25" width="4.09" height="4.09" fill="#b3122f"/>
<rect x="89.45" y="585.95" width="4.09" height="4.09" fill="#b3122f"/>
<rect x="98.45" y="588.95" width="4.09" height="4.09" fill="#b3122f"/>
<rect x="89.45" y="592.75" width="4.09" height="4.09" fill="#b3122f"/>
<rect x="98.45" y="596.75" width="4.09" height="4.09" fill="#b3122f"/>
<rect x="89.45" y="599.45" width="4.09" height="4.09" fill="#b3122f"/>
<line x1="89.40" y1="590.20" x2="102.40" y2="590.20" stroke="#3a2a2a" stroke-width="1.2" />
<line x1="115.70" y1="561.50" x2="115.70" y2="583.50" stroke="#1a3258" stroke-width="1.1" />
<line x1="112.50" y1="561.50" x2="118.90" y2="561.50" stroke="#1a3258" stroke-width="1.1" />
<line x1="112.50" y1="583.50" x2="118.90" y2="583.50" stroke="#1a3258" stroke-width="1.1" />
<path d="M115.70,559.74 L118.37,562.40 L115.70,565.06 L113.03,562.40 Z" fill="#1a3258"/>
<path d="M115.70,564.74 L118.37,567.40 L115.70,570.06 L113.03,567.40 Z" fill="#1a3258"/>
<path d="M115.70,573.84 L118.37,576.50 L115.70,579.16 L113.03,576.50 Z" fill="#1a3258"/>
<path d="M115.70,580.04 L118.37,582.70 L115.70,585.37 L113.03,582.70 Z" fill="#1a3258"/>
<line x1="109.20" y1="572.20" x2="122.20" y2="572.20" stroke="#222" stroke-width="1.2" />
<line x1="134.60" y1="583.20" x2="134.60" y2="603.20" stroke="#e4bc2c" stroke-width="1.1" />
<line x1="131.40" y1="583.20" x2="137.80" y2="583.20" stroke="#e4bc2c" stroke-width="1.1" />
<line x1="131.40" y1="603.20" x2="137.80" y2="603.20" stroke="#e4bc2c" stroke-width="1.1" />
<circle cx="134.60" cy="570.70" r="1.95" fill="#e4bc2c"/>
<circle cx="130.00" cy="588.00" r="1.95" fill="#e4bc2c"/>
<circle cx="138.00" cy="587.00" r="1.95" fill="#e4bc2c"/>
<circle cx="134.60" cy="590.00" r="1.95" fill="#e4bc2c"/>
<circle cx="132.00" cy="596.00" r="1.95" fill="#e4bc2c"/>
<circle cx="138.00" cy="598.00" r="1.95" fill="#e4bc2c"/>
<circle cx="130.00" cy="599.00" r="1.95" fill="#e4bc2c"/>
<circle cx="134.60" cy="601.50" r="1.95" fill="#e4bc2c"/>
<circle cx="134.60" cy="607.00" r="1.95" fill="#e4bc2c"/>
<line x1="128.10" y1="593.40" x2="141.10" y2="593.40" stroke="#333" stroke-width="1.2" />
<line x1="154.20" y1="586.90" x2="154.20" y2="605.40" stroke="#3a8c45" stroke-width="1.1" />
<line x1="151.00" y1="586.90" x2="157.40" y2="586.90" stroke="#3a8c45" stroke-width="1.1" />
<line x1="151.00" y1="605.40" x2="157.40" y2="605.40" stroke="#3a8c45" stroke-width="1.1" />
<path d="M154.20,584.08 L156.62,588.44 L151.78,588.44 Z" fill="#3a8c45"/>
<path d="M148.20,593.08 L150.62,597.44 L145.78,597.44 Z" fill="#3a8c45"/>
<path d="M154.20,593.08 L156.62,597.44 L151.78,597.44 Z" fill="#3a8c45"/>
<path d="M160.20,593.08 L162.62,597.44 L157.78,597.44 Z" fill="#3a8c45"/>
<path d="M154.20,606.18 L156.62,610.54 L151.78,610.54 Z" fill="#3a8c45"/>
<line x1="147.70" y1="595.80" x2="160.70" y2="595.80" stroke="#3a8c45" stroke-width="1.2" />
<line x1="66.80" y1="538.80" x2="66.80" y2="638.60" stroke="#333" stroke-width="1.3" />
<line x1="66.20" y1="638.00" x2="163.70" y2="638.00" stroke="#333" stroke-width="1.3" />
<line x1="63.80" y1="541.40" x2="66.80" y2="541.40" stroke="#333" stroke-width="1.1" />
<text x="61.30" y="544.35" font-size="8.2" text-anchor="end" fill="#2e2e2e" stroke="#2e2e2e" stroke-width="0.24"><tspan font-size="8.2">2.5×10</tspan><tspan dy="-3.2" font-size="5.8">3</tspan></text>
<line x1="63.80" y1="560.70" x2="66.80" y2="560.70" stroke="#333" stroke-width="1.1" />
<text x="61.30" y="563.65" font-size="8.2" text-anchor="end" fill="#2e2e2e" stroke="#2e2e2e" stroke-width="0.24"><tspan font-size="8.2">2.0×10</tspan><tspan dy="-3.2" font-size="5.8">3</tspan></text>
<line x1="63.80" y1="580.00" x2="66.80" y2="580.00" stroke="#333" stroke-width="1.1" />
<text x="61.30" y="582.95" font-size="8.2" text-anchor="end" fill="#2e2e2e" stroke="#2e2e2e" stroke-width="0.24"><tspan font-size="8.2">1.5×10</tspan><tspan dy="-3.2" font-size="5.8">3</tspan></text>
<line x1="63.80" y1="599.40" x2="66.80" y2="599.40" stroke="#333" stroke-width="1.1" />
<text x="61.30" y="602.35" font-size="8.2" text-anchor="end" fill="#2e2e2e" stroke="#2e2e2e" stroke-width="0.24"><tspan font-size="8.2">1.0×10</tspan><tspan dy="-3.2" font-size="5.8">3</tspan></text>
<line x1="63.80" y1="618.70" x2="66.80" y2="618.70" stroke="#333" stroke-width="1.1" />
<text x="61.30" y="621.65" font-size="8.2" text-anchor="end" fill="#2e2e2e" stroke="#2e2e2e" stroke-width="0.24"><tspan font-size="8.2">5.0×10</tspan><tspan dy="-3.2" font-size="5.8">2</tspan></text>
<line x1="63.80" y1="638.00" x2="66.80" y2="638.00" stroke="#333" stroke-width="1.1" />
<text x="61.30" y="640.95" font-size="8.2" text-anchor="end" fill="#2e2e2e" stroke="#2e2e2e" stroke-width="0.24">0.0</text>
<line x1="76.70" y1="638.00" x2="76.70" y2="640.80" stroke="#333" stroke-width="1.1" />
<text transform="translate(80.70,649.00) rotate(-45)" font-size="8.2" text-anchor="end" fill="#2e2e2e" stroke="#2e2e2e" stroke-width="0.24">Naive</text>
<line x1="95.90" y1="638.00" x2="95.90" y2="640.80" stroke="#333" stroke-width="1.1" />
<text transform="translate(99.90,649.00) rotate(-45)" font-size="8.2" text-anchor="end" fill="#2e2e2e" stroke="#2e2e2e" stroke-width="0.24">Veh</text>
<line x1="115.70" y1="638.00" x2="115.70" y2="640.80" stroke="#333" stroke-width="1.1" />
<text transform="translate(119.70,649.00) rotate(-45)" font-size="8.2" text-anchor="end" fill="#2e2e2e" stroke="#2e2e2e" stroke-width="0.24">Ita</text>
<line x1="134.60" y1="638.00" x2="134.60" y2="640.80" stroke="#333" stroke-width="1.1" />
<text transform="translate(138.60,649.00) rotate(-45)" font-size="8.2" text-anchor="end" fill="#2e2e2e" stroke="#2e2e2e" stroke-width="0.24">Fed</text>
<line x1="154.20" y1="638.00" x2="154.20" y2="640.80" stroke="#333" stroke-width="1.1" />
<text transform="translate(158.20,649.00) rotate(-45)" font-size="8.2" text-anchor="end" fill="#2e2e2e" stroke="#2e2e2e" stroke-width="0.24">Ruxo</text>
<text transform="translate(27.10,588.20) rotate(-90)" font-size="8.4" text-anchor="middle" fill="#2e2e2e" textLength="20.8" lengthAdjust="spacingAndGlyphs" stroke="#2e2e2e" stroke-width="0.24">pg/ml</text>
<line x1="98.10" y1="667.50" x2="157.30" y2="667.50" stroke="#444" stroke-width="1.2" />
<text x="128.00" y="678.80" font-size="9.6" text-anchor="middle" fill="#2e2e2e" font-weight="normal" textLength="18.8" lengthAdjust="spacingAndGlyphs"  stroke="#2e2e2e" stroke-width="0.24">LCMV</text>
<line x1="94.20" y1="557.30" x2="114.40" y2="557.30" stroke="#444" stroke-width="1.1" />
<circle cx="104.30" cy="553.50" r="1.25" fill="#333"/>
<line x1="116.10" y1="555.60" x2="134.60" y2="555.60" stroke="#444" stroke-width="1.1" />
<circle cx="123.70" cy="551.80" r="1.25" fill="#333"/>
<circle cx="127.00" cy="551.80" r="1.25" fill="#333"/>
<line x1="116.10" y1="544.80" x2="155.50" y2="544.80" stroke="#444" stroke-width="1.1" />
<circle cx="134.15" cy="541.00" r="1.25" fill="#333"/>
<circle cx="137.45" cy="541.00" r="1.25" fill="#333"/>
<text x="178.60" y="516.00" font-size="11.6" text-anchor="start" fill="#111" font-weight="bold" stroke="#111" stroke-width="0.45">K</text>
<text x="275.50" y="526.70" font-size="9.3" text-anchor="middle" fill="#333" font-weight="normal" textLength="22.5" lengthAdjust="spacingAndGlyphs"  stroke="#333" stroke-width="0.24">IL-10</text>
<circle cx="236.60" cy="629.00" r="1.95" fill="#8a85b8"/>
<circle cx="233.60" cy="631.50" r="1.95" fill="#8a85b8"/>
<circle cx="239.60" cy="631.50" r="1.95" fill="#8a85b8"/>
<circle cx="231.60" cy="634.00" r="1.95" fill="#8a85b8"/>
<circle cx="235.10" cy="634.00" r="1.95" fill="#8a85b8"/>
<circle cx="238.10" cy="634.00" r="1.95" fill="#8a85b8"/>
<circle cx="241.60" cy="634.00" r="1.95" fill="#8a85b8"/>
<circle cx="233.60" cy="636.50" r="1.95" fill="#8a85b8"/>
<circle cx="239.60" cy="636.50" r="1.95" fill="#8a85b8"/>
<line x1="230.10" y1="635.10" x2="243.10" y2="635.10" stroke="#3e3a6a" stroke-width="1.2" />
<line x1="256.30" y1="583.50" x2="256.30" y2="638.00" stroke="#b3122f" stroke-width="1.1" />
<line x1="253.10" y1="583.50" x2="259.50" y2="583.50" stroke="#b3122f" stroke-width="1.1" />
<line x1="253.10" y1="638.00" x2="259.50" y2="638.00" stroke="#b3122f" stroke-width="1.1" />
<rect x="254.35" y="554.55" width="3.90" height="3.90" fill="#b3122f"/>
<rect x="254.35" y="556.85" width="3.90" height="3.90" fill="#b3122f"/>
<rect x="254.35" y="559.55" width="3.90" height="3.90" fill="#b3122f"/>
<rect x="253.35" y="581.55" width="3.90" height="3.90" fill="#b3122f"/>
<rect x="256.05" y="581.55" width="3.90" height="3.90" fill="#b3122f"/>
<rect x="254.35" y="608.05" width="3.90" height="3.90" fill="#b3122f"/>
<rect x="254.35" y="615.25" width="3.90" height="3.90" fill="#b3122f"/>
<rect x="249.55" y="618.05" width="3.90" height="3.90" fill="#b3122f"/>
<rect x="254.35" y="619.55" width="3.90" height="3.90" fill="#b3122f"/>
<rect x="259.05" y="619.55" width="3.90" height="3.90" fill="#b3122f"/>
<rect x="251.55" y="622.55" width="3.90" height="3.90" fill="#b3122f"/>
<rect x="256.55" y="622.55" width="3.90" height="3.90" fill="#b3122f"/>
<rect x="254.35" y="626.05" width="3.90" height="3.90" fill="#b3122f"/>
<rect x="254.35" y="630.05" width="3.90" height="3.90" fill="#b3122f"/>
<rect x="254.35" y="632.05" width="3.90" height="3.90" fill="#b3122f"/>
<line x1="249.80" y1="610.00" x2="262.80" y2="610.00" stroke="#3a2a2a" stroke-width="1.2" />
<line x1="275.40" y1="611.10" x2="275.40" y2="638.00" stroke="#1a3258" stroke-width="1.1" />
<line x1="272.20" y1="611.10" x2="278.60" y2="611.10" stroke="#1a3258" stroke-width="1.1" />
<line x1="272.20" y1="638.00" x2="278.60" y2="638.00" stroke="#1a3258" stroke-width="1.1" />
<path d="M275.60,593.65 L277.65,595.70 L275.60,597.75 L273.55,595.70 Z" fill="#1a3258"/>
<path d="M273.50,605.75 L275.55,607.80 L273.50,609.85 L271.45,607.80 Z" fill="#1a3258"/>
<path d="M277.50,605.75 L279.55,607.80 L277.50,609.85 L275.45,607.80 Z" fill="#1a3258"/>
<path d="M275.60,624.95 L277.65,627.00 L275.60,629.05 L273.55,627.00 Z" fill="#1a3258"/>
<path d="M271.50,627.95 L273.55,630.00 L271.50,632.05 L269.45,630.00 Z" fill="#1a3258"/>
<path d="M278.00,627.95 L280.05,630.00 L278.00,632.05 L275.95,630.00 Z" fill="#1a3258"/>
<path d="M273.00,630.95 L275.05,633.00 L273.00,635.05 L270.95,633.00 Z" fill="#1a3258"/>
<path d="M277.00,630.95 L279.05,633.00 L277.00,635.05 L274.95,633.00 Z" fill="#1a3258"/>
<path d="M275.60,634.45 L277.65,636.50 L275.60,638.55 L273.55,636.50 Z" fill="#1a3258"/>
<path d="M271.50,634.45 L273.55,636.50 L271.50,638.55 L269.45,636.50 Z" fill="#1a3258"/>
<line x1="268.90" y1="624.40" x2="281.90" y2="624.40" stroke="#222" stroke-width="1.2" />
<circle cx="295.50" cy="618.80" r="1.95" fill="#e4bc2c"/>
<circle cx="295.50" cy="622.50" r="1.95" fill="#e4bc2c"/>
<circle cx="291.00" cy="631.00" r="1.95" fill="#e4bc2c"/>
<circle cx="295.00" cy="630.00" r="1.95" fill="#e4bc2c"/>
<circle cx="299.00" cy="631.00" r="1.95" fill="#e4bc2c"/>
<circle cx="290.00" cy="634.50" r="1.95" fill="#e4bc2c"/>
<circle cx="295.00" cy="634.00" r="1.95" fill="#e4bc2c"/>
<circle cx="299.00" cy="634.00" r="1.95" fill="#e4bc2c"/>
<line x1="288.00" y1="628.50" x2="301.00" y2="628.50" stroke="#333" stroke-width="1.2" />
<path d="M311.00,627.45 L313.05,629.50 L311.00,631.55 L308.95,629.50 Z" fill="#3a8c45"/>
<path d="M316.00,627.45 L318.05,629.50 L316.00,631.55 L313.95,629.50 Z" fill="#3a8c45"/>
<path d="M319.00,628.45 L321.05,630.50 L319.00,632.55 L316.95,630.50 Z" fill="#3a8c45"/>
<path d="M309.00,630.45 L311.05,632.50 L309.00,634.55 L306.95,632.50 Z" fill="#3a8c45"/>
<path d="M313.50,629.95 L315.55,632.00 L313.50,634.05 L311.45,632.00 Z" fill="#3a8c45"/>
<path d="M318.00,630.45 L320.05,632.50 L318.00,634.55 L315.95,632.50 Z" fill="#3a8c45"/>
<path d="M314.00,632.95 L316.05,635.00 L314.00,637.05 L311.95,635.00 Z" fill="#3a8c45"/>
<path d="M315.00,633.95 L317.05,636.00 L315.00,638.05 L312.95,636.00 Z" fill="#3a8c45"/>
<line x1="307.70" y1="631.50" x2="320.70" y2="631.50" stroke="#3a8c45" stroke-width="1.2" />
<line x1="227.50" y1="538.80" x2="227.50" y2="638.60" stroke="#333" stroke-width="1.3" />
<line x1="226.90" y1="638.00" x2="323.70" y2="638.00" stroke="#333" stroke-width="1.3" />
<line x1="224.50" y1="541.40" x2="227.50" y2="541.40" stroke="#333" stroke-width="1.1" />
<text x="222.00" y="544.35" font-size="8.2" text-anchor="end" fill="#2e2e2e" stroke="#2e2e2e" stroke-width="0.24">1000</text>
<line x1="224.50" y1="560.70" x2="227.50" y2="560.70" stroke="#333" stroke-width="1.1" />
<text x="222.00" y="563.65" font-size="8.2" text-anchor="end" fill="#2e2e2e" stroke="#2e2e2e" stroke-width="0.24">800</text>
<line x1="224.50" y1="580.00" x2="227.50" y2="580.00" stroke="#333" stroke-width="1.1" />
<text x="222.00" y="582.95" font-size="8.2" text-anchor="end" fill="#2e2e2e" stroke="#2e2e2e" stroke-width="0.24">600</text>
<line x1="224.50" y1="599.40" x2="227.50" y2="599.40" stroke="#333" stroke-width="1.1" />
<text x="222.00" y="602.35" font-size="8.2" text-anchor="end" fill="#2e2e2e" stroke="#2e2e2e" stroke-width="0.24">400</text>
<line x1="224.50" y1="618.70" x2="227.50" y2="618.70" stroke="#333" stroke-width="1.1" />
<text x="222.00" y="621.65" font-size="8.2" text-anchor="end" fill="#2e2e2e" stroke="#2e2e2e" stroke-width="0.24">200</text>
<line x1="224.50" y1="638.00" x2="227.50" y2="638.00" stroke="#333" stroke-width="1.1" />
<text x="222.00" y="640.95" font-size="8.2" text-anchor="end" fill="#2e2e2e" stroke="#2e2e2e" stroke-width="0.24">0</text>
<line x1="236.60" y1="638.00" x2="236.60" y2="640.80" stroke="#333" stroke-width="1.1" />
<text transform="translate(240.60,649.00) rotate(-45)" font-size="8.2" text-anchor="end" fill="#2e2e2e" stroke="#2e2e2e" stroke-width="0.24">Naive</text>
<line x1="256.30" y1="638.00" x2="256.30" y2="640.80" stroke="#333" stroke-width="1.1" />
<text transform="translate(260.30,649.00) rotate(-45)" font-size="8.2" text-anchor="end" fill="#2e2e2e" stroke="#2e2e2e" stroke-width="0.24">Veh</text>
<line x1="275.40" y1="638.00" x2="275.40" y2="640.80" stroke="#333" stroke-width="1.1" />
<text transform="translate(279.40,649.00) rotate(-45)" font-size="8.2" text-anchor="end" fill="#2e2e2e" stroke="#2e2e2e" stroke-width="0.24">Ita</text>
<line x1="294.50" y1="638.00" x2="294.50" y2="640.80" stroke="#333" stroke-width="1.1" />
<text transform="translate(298.50,649.00) rotate(-45)" font-size="8.2" text-anchor="end" fill="#2e2e2e" stroke="#2e2e2e" stroke-width="0.24">Fed</text>
<line x1="314.20" y1="638.00" x2="314.20" y2="640.80" stroke="#333" stroke-width="1.1" />
<text transform="translate(318.20,649.00) rotate(-45)" font-size="8.2" text-anchor="end" fill="#2e2e2e" stroke="#2e2e2e" stroke-width="0.24">Ruxo</text>
<text transform="translate(199.60,588.20) rotate(-90)" font-size="8.4" text-anchor="middle" fill="#2e2e2e" textLength="20.8" lengthAdjust="spacingAndGlyphs" stroke="#2e2e2e" stroke-width="0.24">pg/ml</text>
<line x1="256.10" y1="667.50" x2="316.30" y2="667.50" stroke="#444" stroke-width="1.2" />
<text x="286.50" y="678.80" font-size="9.6" text-anchor="middle" fill="#2e2e2e" font-weight="normal" textLength="18.8" lengthAdjust="spacingAndGlyphs"  stroke="#2e2e2e" stroke-width="0.24">LCMV</text>
<line x1="235.00" y1="552.90" x2="255.80" y2="552.90" stroke="#444" stroke-width="1.1" />
<circle cx="240.45" cy="549.10" r="1.25" fill="#333"/>
<circle cx="243.75" cy="549.10" r="1.25" fill="#333"/>
<circle cx="247.05" cy="549.10" r="1.25" fill="#333"/>
<circle cx="250.35" cy="549.10" r="1.25" fill="#333"/>
<line x1="258.20" y1="553.90" x2="281.70" y2="553.90" stroke="#444" stroke-width="1.1" />
<circle cx="269.95" cy="550.10" r="1.25" fill="#333"/>
<line x1="258.20" y1="546.20" x2="293.90" y2="546.20" stroke="#444" stroke-width="1.1" />
<circle cx="274.40" cy="542.40" r="1.25" fill="#333"/>
<circle cx="277.70" cy="542.40" r="1.25" fill="#333"/>
<line x1="258.20" y1="538.10" x2="315.40" y2="538.10" stroke="#444" stroke-width="1.1" />
<circle cx="285.15" cy="534.30" r="1.25" fill="#333"/>
<circle cx="288.45" cy="534.30" r="1.25" fill="#333"/>
<text x="339.40" y="516.00" font-size="11.6" text-anchor="start" fill="#111" font-weight="bold" stroke="#111" stroke-width="0.45">L</text>
<text x="445.00" y="526.70" font-size="9.3" text-anchor="middle" fill="#333" font-weight="normal" textLength="31" lengthAdjust="spacingAndGlyphs"  stroke="#333" stroke-width="0.24">G-CSF</text>
<line x1="406.30" y1="629.60" x2="406.30" y2="637.00" stroke="#8a85b8" stroke-width="1.1" />
<line x1="403.10" y1="629.60" x2="409.50" y2="629.60" stroke="#8a85b8" stroke-width="1.1" />
<line x1="403.10" y1="637.00" x2="409.50" y2="637.00" stroke="#8a85b8" stroke-width="1.1" />
<circle cx="406.30" cy="622.40" r="1.95" fill="#8a85b8"/>
<circle cx="406.30" cy="626.00" r="1.95" fill="#8a85b8"/>
<circle cx="406.30" cy="630.00" r="1.95" fill="#8a85b8"/>
<circle cx="401.80" cy="632.50" r="1.95" fill="#8a85b8"/>
<circle cx="404.80" cy="633.00" r="1.95" fill="#8a85b8"/>
<circle cx="407.80" cy="633.00" r="1.95" fill="#8a85b8"/>
<circle cx="410.80" cy="632.50" r="1.95" fill="#8a85b8"/>
<circle cx="403.30" cy="635.50" r="1.95" fill="#8a85b8"/>
<circle cx="406.30" cy="636.00" r="1.95" fill="#8a85b8"/>
<circle cx="409.30" cy="635.50" r="1.95" fill="#8a85b8"/>
<line x1="399.80" y1="633.50" x2="412.80" y2="633.50" stroke="#3e3a6a" stroke-width="1.2" />
<line x1="425.30" y1="583.60" x2="425.30" y2="625.00" stroke="#b3122f" stroke-width="1.1" />
<line x1="422.10" y1="583.60" x2="428.50" y2="583.60" stroke="#b3122f" stroke-width="1.1" />
<line x1="422.10" y1="625.00" x2="428.50" y2="625.00" stroke="#b3122f" stroke-width="1.1" />
<rect x="421.85" y="566.55" width="3.90" height="3.90" fill="#b3122f"/>
<rect x="426.05" y="565.85" width="3.90" height="3.90" fill="#b3122f"/>
<rect x="423.35" y="578.35" width="3.90" height="3.90" fill="#b3122f"/>
<rect x="423.35" y="580.55" width="3.90" height="3.90" fill="#b3122f"/>
<rect x="419.05" y="590.85" width="3.90" height="3.90" fill="#b3122f"/>
<rect x="423.35" y="594.55" width="3.90" height="3.90" fill="#b3122f"/>
<rect x="419.05" y="607.75" width="3.90" height="3.90" fill="#b3122f"/>
<rect x="423.35" y="608.85" width="3.90" height="3.90" fill="#b3122f"/>
<rect x="427.55" y="608.85" width="3.90" height="3.90" fill="#b3122f"/>
<rect x="423.35" y="612.15" width="3.90" height="3.90" fill="#b3122f"/>
<rect x="419.05" y="613.45" width="3.90" height="3.90" fill="#b3122f"/>
<rect x="427.55" y="613.45" width="3.90" height="3.90" fill="#b3122f"/>
<rect x="423.35" y="619.05" width="3.90" height="3.90" fill="#b3122f"/>
<rect x="419.05" y="622.05" width="3.90" height="3.90" fill="#b3122f"/>
<rect x="427.55" y="620.55" width="3.90" height="3.90" fill="#b3122f"/>
<rect x="419.05" y="627.95" width="3.90" height="3.90" fill="#b3122f"/>
<line x1="418.80" y1="604.30" x2="431.80" y2="604.30" stroke="#3a2a2a" stroke-width="1.2" />
<line x1="444.40" y1="609.50" x2="444.40" y2="628.00" stroke="#1a3258" stroke-width="1.1" />
<line x1="441.20" y1="609.50" x2="447.60" y2="609.50" stroke="#1a3258" stroke-width="1.1" />
<line x1="441.20" y1="628.00" x2="447.60" y2="628.00" stroke="#1a3258" stroke-width="1.1" />
<path d="M444.40,588.45 L446.45,590.50 L444.40,592.55 L442.35,590.50 Z" fill="#1a3258"/>
<path d="M444.40,601.45 L446.45,603.50 L444.40,605.55 L442.35,603.50 Z" fill="#1a3258"/>
<path d="M443.90,607.95 L445.95,610.00 L443.90,612.05 L441.85,610.00 Z" fill="#1a3258"/>
<path d="M445.90,610.95 L447.95,613.00 L445.90,615.05 L443.85,613.00 Z" fill="#1a3258"/>
<path d="M440.90,615.95 L442.95,618.00 L440.90,620.05 L438.85,618.00 Z" fill="#1a3258"/>
<path d="M444.90,618.95 L446.95,621.00 L444.90,623.05 L442.85,621.00 Z" fill="#1a3258"/>
<path d="M447.40,620.95 L449.45,623.00 L447.40,625.05 L445.35,623.00 Z" fill="#1a3258"/>
<path d="M440.90,623.45 L442.95,625.50 L440.90,627.55 L438.85,625.50 Z" fill="#1a3258"/>
<path d="M444.90,624.45 L446.95,626.50 L444.90,628.55 L442.85,626.50 Z" fill="#1a3258"/>
<path d="M448.90,624.45 L450.95,626.50 L448.90,628.55 L446.85,626.50 Z" fill="#1a3258"/>
<path d="M442.90,626.95 L444.95,629.00 L442.90,631.05 L440.85,629.00 Z" fill="#1a3258"/>
<path d="M446.90,626.95 L448.95,629.00 L446.90,631.05 L444.85,629.00 Z" fill="#1a3258"/>
<path d="M440.40,609.95 L442.45,612.00 L440.40,614.05 L438.35,612.00 Z" fill="#1a3258"/>
<path d="M448.40,612.95 L450.45,615.00 L448.40,617.05 L446.35,615.00 Z" fill="#1a3258"/>
<path d="M443.40,614.95 L445.45,617.00 L443.40,619.05 L441.35,617.00 Z" fill="#1a3258"/>
<path d="M446.40,617.95 L448.45,620.00 L446.40,622.05 L444.35,620.00 Z" fill="#1a3258"/>
<path d="M439.90,619.95 L441.95,622.00 L439.90,624.05 L437.85,622.00 Z" fill="#1a3258"/>
<path d="M448.90,621.95 L450.95,624.00 L448.90,626.05 L446.85,624.00 Z" fill="#1a3258"/>
<path d="M444.40,626.45 L446.45,628.50 L444.40,630.55 L442.35,628.50 Z" fill="#1a3258"/>
<path d="M440.90,628.95 L442.95,631.00 L440.90,633.05 L438.85,631.00 Z" fill="#1a3258"/>
<path d="M447.90,628.95 L449.95,631.00 L447.90,633.05 L445.85,631.00 Z" fill="#1a3258"/>
<line x1="437.90" y1="619.10" x2="450.90" y2="619.10" stroke="#222" stroke-width="1.2" />
<line x1="463.50" y1="606.50" x2="463.50" y2="631.00" stroke="#e4bc2c" stroke-width="1.1" />
<line x1="460.30" y1="606.50" x2="466.70" y2="606.50" stroke="#e4bc2c" stroke-width="1.1" />
<line x1="460.30" y1="631.00" x2="466.70" y2="631.00" stroke="#e4bc2c" stroke-width="1.1" />
<circle cx="462.50" cy="596.80" r="1.95" fill="#e4bc2c"/>
<circle cx="466.00" cy="593.80" r="1.95" fill="#e4bc2c"/>
<circle cx="468.80" cy="614.60" r="1.95" fill="#e4bc2c"/>
<circle cx="464.50" cy="624.00" r="1.95" fill="#e4bc2c"/>
<circle cx="460.00" cy="627.80" r="1.95" fill="#e4bc2c"/>
<circle cx="469.00" cy="626.50" r="1.95" fill="#e4bc2c"/>
<circle cx="465.00" cy="628.50" r="1.95" fill="#e4bc2c"/>
<circle cx="465.50" cy="630.00" r="1.95" fill="#e4bc2c"/>
<circle cx="462.50" cy="633.50" r="1.95" fill="#e4bc2c"/>
<circle cx="459.50" cy="622.00" r="1.95" fill="#e4bc2c"/>
<circle cx="467.50" cy="623.00" r="1.95" fill="#e4bc2c"/>
<circle cx="463.50" cy="625.00" r="1.95" fill="#e4bc2c"/>
<circle cx="461.00" cy="631.00" r="1.95" fill="#e4bc2c"/>
<circle cx="467.00" cy="632.50" r="1.95" fill="#e4bc2c"/>
<line x1="457.00" y1="619.10" x2="470.00" y2="619.10" stroke="#333" stroke-width="1.2" />
<path d="M488.00,621.55 L490.05,623.60 L488.00,625.65 L485.95,623.60 Z" fill="#3a8c45"/>
<path d="M481.00,623.45 L483.05,625.50 L481.00,627.55 L478.95,625.50 Z" fill="#3a8c45"/>
<path d="M484.50,623.95 L486.55,626.00 L484.50,628.05 L482.45,626.00 Z" fill="#3a8c45"/>
<path d="M478.50,626.25 L480.55,628.30 L478.50,630.35 L476.45,628.30 Z" fill="#3a8c45"/>
<path d="M486.00,625.95 L488.05,628.00 L486.00,630.05 L483.95,628.00 Z" fill="#3a8c45"/>
<path d="M489.00,626.95 L491.05,629.00 L489.00,631.05 L486.95,629.00 Z" fill="#3a8c45"/>
<path d="M480.00,628.45 L482.05,630.50 L480.00,632.55 L477.95,630.50 Z" fill="#3a8c45"/>
<path d="M484.50,629.95 L486.55,632.00 L484.50,634.05 L482.45,632.00 Z" fill="#3a8c45"/>
<path d="M482.00,632.45 L484.05,634.50 L482.00,636.55 L479.95,634.50 Z" fill="#3a8c45"/>
<line x1="476.50" y1="628.50" x2="489.50" y2="628.50" stroke="#3a8c45" stroke-width="1.2" />
<line x1="396.60" y1="538.80" x2="396.60" y2="638.60" stroke="#333" stroke-width="1.3" />
<line x1="396.00" y1="638.00" x2="492.50" y2="638.00" stroke="#333" stroke-width="1.3" />
<line x1="393.60" y1="541.40" x2="396.60" y2="541.40" stroke="#333" stroke-width="1.1" />
<text x="391.10" y="544.35" font-size="8.2" text-anchor="end" fill="#2e2e2e" stroke="#2e2e2e" stroke-width="0.24"><tspan font-size="8.2">2.5×10</tspan><tspan dy="-3.2" font-size="5.8">4</tspan></text>
<line x1="393.60" y1="560.70" x2="396.60" y2="560.70" stroke="#333" stroke-width="1.1" />
<text x="391.10" y="563.65" font-size="8.2" text-anchor="end" fill="#2e2e2e" stroke="#2e2e2e" stroke-width="0.24"><tspan font-size="8.2">2.0×10</tspan><tspan dy="-3.2" font-size="5.8">4</tspan></text>
<line x1="393.60" y1="580.00" x2="396.60" y2="580.00" stroke="#333" stroke-width="1.1" />
<text x="391.10" y="582.95" font-size="8.2" text-anchor="end" fill="#2e2e2e" stroke="#2e2e2e" stroke-width="0.24"><tspan font-size="8.2">1.5×10</tspan><tspan dy="-3.2" font-size="5.8">4</tspan></text>
<line x1="393.60" y1="599.40" x2="396.60" y2="599.40" stroke="#333" stroke-width="1.1" />
<text x="391.10" y="602.35" font-size="8.2" text-anchor="end" fill="#2e2e2e" stroke="#2e2e2e" stroke-width="0.24"><tspan font-size="8.2">1.0×10</tspan><tspan dy="-3.2" font-size="5.8">4</tspan></text>
<line x1="393.60" y1="618.70" x2="396.60" y2="618.70" stroke="#333" stroke-width="1.1" />
<text x="391.10" y="621.65" font-size="8.2" text-anchor="end" fill="#2e2e2e" stroke="#2e2e2e" stroke-width="0.24"><tspan font-size="8.2">5.0×10</tspan><tspan dy="-3.2" font-size="5.8">3</tspan></text>
<line x1="393.60" y1="638.00" x2="396.60" y2="638.00" stroke="#333" stroke-width="1.1" />
<text x="391.10" y="640.95" font-size="8.2" text-anchor="end" fill="#2e2e2e" stroke="#2e2e2e" stroke-width="0.24">0.0</text>
<line x1="406.30" y1="638.00" x2="406.30" y2="640.80" stroke="#333" stroke-width="1.1" />
<text transform="translate(410.30,649.00) rotate(-45)" font-size="8.2" text-anchor="end" fill="#2e2e2e" stroke="#2e2e2e" stroke-width="0.24">Naive</text>
<line x1="425.30" y1="638.00" x2="425.30" y2="640.80" stroke="#333" stroke-width="1.1" />
<text transform="translate(429.30,649.00) rotate(-45)" font-size="8.2" text-anchor="end" fill="#2e2e2e" stroke="#2e2e2e" stroke-width="0.24">Veh</text>
<line x1="444.40" y1="638.00" x2="444.40" y2="640.80" stroke="#333" stroke-width="1.1" />
<text transform="translate(448.40,649.00) rotate(-45)" font-size="8.2" text-anchor="end" fill="#2e2e2e" stroke="#2e2e2e" stroke-width="0.24">Ita</text>
<line x1="463.50" y1="638.00" x2="463.50" y2="640.80" stroke="#333" stroke-width="1.1" />
<text transform="translate(467.50,649.00) rotate(-45)" font-size="8.2" text-anchor="end" fill="#2e2e2e" stroke="#2e2e2e" stroke-width="0.24">Fed</text>
<line x1="483.00" y1="638.00" x2="483.00" y2="640.80" stroke="#333" stroke-width="1.1" />
<text transform="translate(487.00,649.00) rotate(-45)" font-size="8.2" text-anchor="end" fill="#2e2e2e" stroke="#2e2e2e" stroke-width="0.24">Ruxo</text>
<text transform="translate(357.50,588.20) rotate(-90)" font-size="8.4" text-anchor="middle" fill="#2e2e2e" textLength="20.8" lengthAdjust="spacingAndGlyphs" stroke="#2e2e2e" stroke-width="0.24">pg/ml</text>
<line x1="425.50" y1="667.50" x2="487.60" y2="667.50" stroke="#444" stroke-width="1.2" />
<text x="456.85" y="678.80" font-size="9.6" text-anchor="middle" fill="#2e2e2e" font-weight="normal" textLength="18.8" lengthAdjust="spacingAndGlyphs"  stroke="#2e2e2e" stroke-width="0.24">LCMV</text>
<line x1="404.90" y1="563.30" x2="423.10" y2="563.30" stroke="#444" stroke-width="1.1" />
<circle cx="409.05" cy="559.50" r="1.25" fill="#333"/>
<circle cx="412.35" cy="559.50" r="1.25" fill="#333"/>
<circle cx="415.65" cy="559.50" r="1.25" fill="#333"/>
<circle cx="418.95" cy="559.50" r="1.25" fill="#333"/>
<line x1="427.50" y1="563.30" x2="445.30" y2="563.30" stroke="#444" stroke-width="1.1" />
<circle cx="436.40" cy="559.50" r="1.25" fill="#333"/>
<line x1="427.50" y1="555.60" x2="462.80" y2="555.60" stroke="#444" stroke-width="1.1" />
<circle cx="445.15" cy="551.80" r="1.25" fill="#333"/>
<line x1="427.50" y1="547.80" x2="483.70" y2="547.80" stroke="#444" stroke-width="1.1" />
<circle cx="452.30" cy="544.00" r="1.25" fill="#333"/>
<circle cx="455.60" cy="544.00" r="1.25" fill="#333"/>
<circle cx="458.90" cy="544.00" r="1.25" fill="#333"/>
<rect x="0" y="0" width="520" height="1" fill="#5a5a5a"/><rect x="0" y="687" width="520" height="1" fill="#555"/><rect x="0" y="0" width="1" height="688" fill="#5a5a5a"/><rect x="519" y="0" width="1" height="688" fill="#5a5a5a"/>
</svg></body></html>
